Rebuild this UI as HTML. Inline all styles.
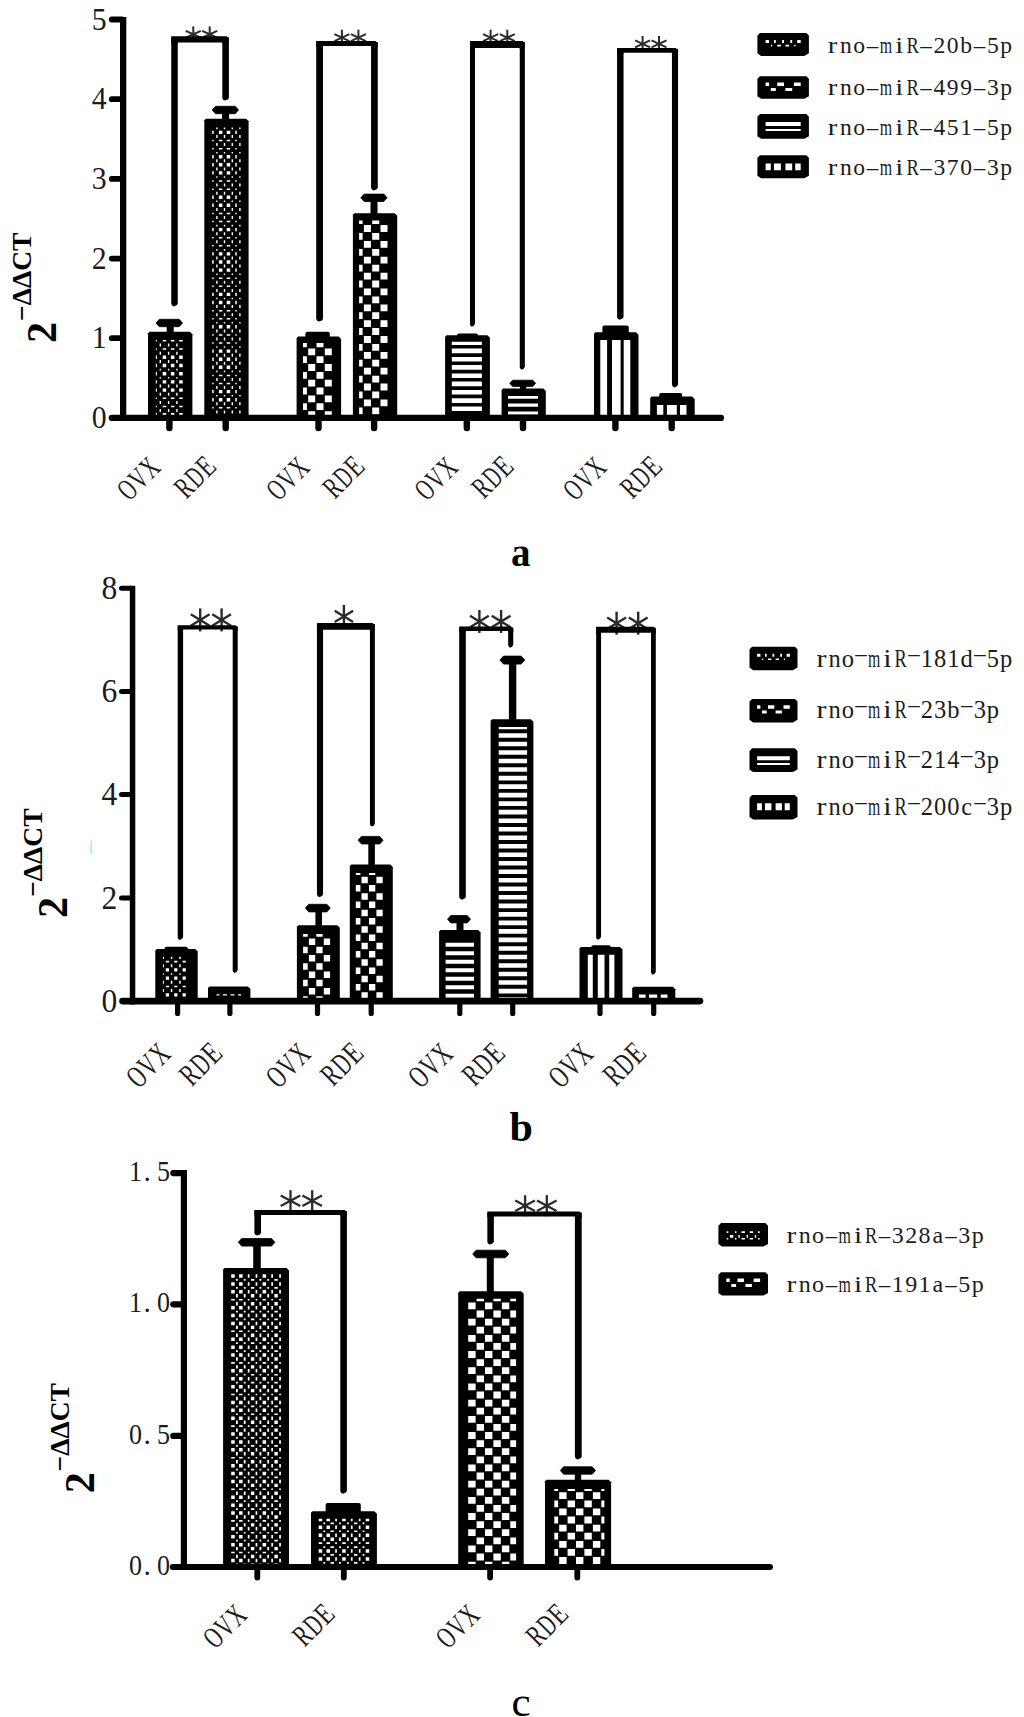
<!DOCTYPE html>
<html><head><meta charset="utf-8"><title>Figure</title>
<style>html,body{margin:0;padding:0;background:#fff;}body{width:1024px;height:1717px;overflow:hidden;font-family:"Liberation Serif",serif;}</style></head>
<body>
<svg width="1024" height="1717" viewBox="0 0 1024 1717" font-family="'Liberation Serif', serif" style="display:block"><path d="M148.00,415.50 L148.00,333.20 L149.50,331.70 L189.90,331.70 L192.40,334.20 L192.40,415.50 Z" fill="#000"/>
<path d="M155.8,340.1h1.1v1.5h-1.1zM159.6,343.5h1.4v3.0h-1.4zM162.7,340.1h3.5v1.5h-3.5zM167.9,343.5h1.4v3.0h-1.4zM170.9,340.1h3.5v1.5h-3.5zM176.2,343.5h1.4v3.0h-1.4zM179.2,340.1h3.5v1.5h-3.5zM155.8,348.3h1.1v1.5h-1.1zM159.6,351.7h1.4v3.0h-1.4zM162.7,348.3h3.5v1.5h-3.5zM167.9,351.7h1.4v3.0h-1.4zM170.9,348.3h3.5v1.5h-3.5zM176.2,351.7h1.4v3.0h-1.4zM179.2,348.3h3.5v1.5h-3.5zM155.8,355.6h1.1v3.4h-1.1zM159.6,359.9h1.4v3.0h-1.4zM162.7,355.6h3.5v3.4h-3.5zM167.9,359.9h1.4v3.0h-1.4zM170.9,355.6h3.5v3.4h-3.5zM176.2,359.9h1.4v3.0h-1.4zM179.2,355.6h3.5v3.4h-3.5zM155.8,363.8h1.1v3.4h-1.1zM159.6,368.8h1.4v1.6h-1.4zM162.7,363.8h3.5v3.4h-3.5zM167.9,368.8h1.4v1.6h-1.4zM170.9,363.8h3.5v3.4h-3.5zM176.2,368.8h1.4v1.6h-1.4zM179.2,363.8h3.5v3.4h-3.5zM155.8,372.0h1.1v3.4h-1.1zM159.6,377.0h1.4v1.6h-1.4zM162.7,372.0h3.5v3.4h-3.5zM167.9,377.0h1.4v1.6h-1.4zM170.9,372.0h3.5v3.4h-3.5zM176.2,377.0h1.4v1.6h-1.4zM179.2,372.0h3.5v3.4h-3.5zM155.8,380.2h1.1v3.4h-1.1zM159.6,384.5h1.4v3.0h-1.4zM162.7,380.2h3.5v3.4h-3.5zM167.9,384.5h1.4v3.0h-1.4zM170.9,380.2h3.5v3.4h-3.5zM176.2,384.5h1.4v3.0h-1.4zM179.2,380.2h3.5v3.4h-3.5zM155.8,388.4h1.1v3.4h-1.1zM159.6,392.7h1.4v3.0h-1.4zM162.7,388.4h3.5v3.4h-3.5zM167.9,392.7h1.4v3.0h-1.4zM170.9,388.4h3.5v3.4h-3.5zM176.2,392.7h1.4v3.0h-1.4zM179.2,388.4h3.5v3.4h-3.5zM155.8,397.5h1.1v1.5h-1.1zM159.6,400.9h1.4v3.0h-1.4zM162.7,397.5h3.5v1.5h-3.5zM167.9,400.9h1.4v3.0h-1.4zM170.9,397.5h3.5v1.5h-3.5zM176.2,400.9h1.4v3.0h-1.4zM179.2,397.5h3.5v1.5h-3.5zM155.8,405.8h1.1v1.5h-1.1zM159.6,409.1h1.4v3.0h-1.4zM162.7,405.8h3.5v1.5h-3.5zM167.9,409.1h1.4v3.0h-1.4zM170.9,405.8h3.5v1.5h-3.5zM176.2,409.1h1.4v3.0h-1.4zM179.2,405.8h3.5v1.5h-3.5zM155.8,413.0h1.1v2.5h-1.1zM162.7,413.0h3.5v2.5h-3.5zM170.9,413.0h3.5v2.5h-3.5zM179.2,413.0h3.5v2.5h-3.5z" fill="#fff"/>
<path d="M204.30,415.50 L204.30,120.20 L205.80,118.70 L246.10,118.70 L248.60,121.20 L248.60,415.50 Z" fill="#000"/>
<path d="M216.2,127.6h1.4v1.6h-1.4zM223.8,127.6h1.4v1.6h-1.4zM231.6,127.6h1.4v1.6h-1.4zM239.2,127.6h1.4v1.6h-1.4zM212.2,130.7h1.5v3.4h-1.5zM216.2,135.0h1.4v3.0h-1.4zM218.9,130.7h3.5v3.4h-3.5zM223.8,135.0h1.4v3.0h-1.4zM226.7,130.7h3.5v3.4h-3.5zM231.6,135.0h1.4v3.0h-1.4zM235.3,130.7h1.5v3.4h-1.5zM239.2,135.0h1.4v3.0h-1.4zM212.2,139.8h1.5v1.5h-1.5zM216.2,143.1h1.4v3.0h-1.4zM218.9,139.8h3.5v1.5h-3.5zM223.8,143.1h1.4v3.0h-1.4zM226.7,139.8h3.5v1.5h-3.5zM231.6,143.1h1.4v3.0h-1.4zM235.3,139.8h1.5v1.5h-1.5zM239.2,143.1h1.4v3.0h-1.4zM212.2,147.9h1.5v1.5h-1.5zM216.2,151.9h1.4v1.6h-1.4zM218.9,147.9h3.5v1.5h-3.5zM223.8,151.9h1.4v1.6h-1.4zM226.7,147.9h3.5v1.5h-3.5zM231.6,151.9h1.4v1.6h-1.4zM235.3,147.9h1.5v1.5h-1.5zM239.2,151.9h1.4v1.6h-1.4zM212.2,155.0h1.5v3.4h-1.5zM216.2,159.3h1.4v3.0h-1.4zM218.9,155.0h3.5v3.4h-3.5zM223.8,159.3h1.4v3.0h-1.4zM226.7,155.0h3.5v3.4h-3.5zM231.6,159.3h1.4v3.0h-1.4zM235.3,155.0h1.5v3.4h-1.5zM239.2,159.3h1.4v3.0h-1.4zM212.2,163.1h1.5v3.4h-1.5zM216.2,167.4h1.4v3.0h-1.4zM218.9,163.1h3.5v3.4h-3.5zM223.8,167.4h1.4v3.0h-1.4zM226.7,163.1h3.5v3.4h-3.5zM231.6,167.4h1.4v3.0h-1.4zM235.3,163.1h1.5v3.4h-1.5zM239.2,167.4h1.4v3.0h-1.4zM212.2,171.2h1.5v3.4h-1.5zM216.2,176.2h1.4v1.6h-1.4zM218.9,171.2h3.5v3.4h-3.5zM223.8,176.2h1.4v1.6h-1.4zM226.7,171.2h3.5v3.4h-3.5zM231.6,176.2h1.4v1.6h-1.4zM235.3,171.2h1.5v3.4h-1.5zM239.2,176.2h1.4v1.6h-1.4zM212.2,180.3h1.5v1.5h-1.5zM216.2,183.6h1.4v3.0h-1.4zM218.9,180.3h3.5v1.5h-3.5zM223.8,183.6h1.4v3.0h-1.4zM226.7,180.3h3.5v1.5h-3.5zM231.6,183.6h1.4v3.0h-1.4zM235.3,180.3h1.5v1.5h-1.5zM239.2,183.6h1.4v3.0h-1.4zM212.2,188.4h1.5v1.5h-1.5zM216.2,191.7h1.4v3.0h-1.4zM218.9,188.4h3.5v1.5h-3.5zM223.8,191.7h1.4v3.0h-1.4zM226.7,188.4h3.5v1.5h-3.5zM231.6,191.7h1.4v3.0h-1.4zM235.3,188.4h1.5v1.5h-1.5zM239.2,191.7h1.4v3.0h-1.4zM212.2,195.5h1.5v3.4h-1.5zM216.2,200.5h1.4v1.6h-1.4zM218.9,195.5h3.5v3.4h-3.5zM223.8,200.5h1.4v1.6h-1.4zM226.7,195.5h3.5v3.4h-3.5zM231.6,200.5h1.4v1.6h-1.4zM235.3,195.5h1.5v3.4h-1.5zM239.2,200.5h1.4v1.6h-1.4zM212.2,203.6h1.5v3.4h-1.5zM216.2,207.9h1.4v3.0h-1.4zM218.9,203.6h3.5v3.4h-3.5zM223.8,207.9h1.4v3.0h-1.4zM226.7,203.6h3.5v3.4h-3.5zM231.6,207.9h1.4v3.0h-1.4zM235.3,203.6h1.5v3.4h-1.5zM239.2,207.9h1.4v3.0h-1.4zM212.2,212.7h1.5v1.5h-1.5zM216.2,216.0h1.4v3.0h-1.4zM218.9,212.7h3.5v1.5h-3.5zM223.8,216.0h1.4v3.0h-1.4zM226.7,212.7h3.5v1.5h-3.5zM231.6,216.0h1.4v3.0h-1.4zM235.3,212.7h1.5v1.5h-1.5zM239.2,216.0h1.4v3.0h-1.4zM212.2,220.8h1.5v1.5h-1.5zM216.2,224.8h1.4v1.6h-1.4zM218.9,220.8h3.5v1.5h-3.5zM223.8,224.8h1.4v1.6h-1.4zM226.7,220.8h3.5v1.5h-3.5zM231.6,224.8h1.4v1.6h-1.4zM235.3,220.8h1.5v1.5h-1.5zM239.2,224.8h1.4v1.6h-1.4zM212.2,227.9h1.5v3.4h-1.5zM216.2,232.2h1.4v3.0h-1.4zM218.9,227.9h3.5v3.4h-3.5zM223.8,232.2h1.4v3.0h-1.4zM226.7,227.9h3.5v3.4h-3.5zM231.6,232.2h1.4v3.0h-1.4zM235.3,227.9h1.5v3.4h-1.5zM239.2,232.2h1.4v3.0h-1.4zM212.2,237.0h1.5v1.5h-1.5zM216.2,240.3h1.4v3.0h-1.4zM218.9,237.0h3.5v1.5h-3.5zM223.8,240.3h1.4v3.0h-1.4zM226.7,237.0h3.5v1.5h-3.5zM231.6,240.3h1.4v3.0h-1.4zM235.3,237.0h1.5v1.5h-1.5zM239.2,240.3h1.4v3.0h-1.4zM212.2,245.1h1.5v1.5h-1.5zM216.2,249.1h1.4v1.6h-1.4zM218.9,245.1h3.5v1.5h-3.5zM223.8,249.1h1.4v1.6h-1.4zM226.7,245.1h3.5v1.5h-3.5zM231.6,249.1h1.4v1.6h-1.4zM235.3,245.1h1.5v1.5h-1.5zM239.2,249.1h1.4v1.6h-1.4zM212.2,252.2h1.5v3.4h-1.5zM216.2,256.5h1.4v3.0h-1.4zM218.9,252.2h3.5v3.4h-3.5zM223.8,256.5h1.4v3.0h-1.4zM226.7,252.2h3.5v3.4h-3.5zM231.6,256.5h1.4v3.0h-1.4zM235.3,252.2h1.5v3.4h-1.5zM239.2,256.5h1.4v3.0h-1.4zM212.2,260.3h1.5v3.4h-1.5zM216.2,264.6h1.4v3.0h-1.4zM218.9,260.3h3.5v3.4h-3.5zM223.8,264.6h1.4v3.0h-1.4zM226.7,260.3h3.5v3.4h-3.5zM231.6,264.6h1.4v3.0h-1.4zM235.3,260.3h1.5v3.4h-1.5zM239.2,264.6h1.4v3.0h-1.4zM212.2,268.4h1.5v3.4h-1.5zM216.2,273.4h1.4v1.6h-1.4zM218.9,268.4h3.5v3.4h-3.5zM223.8,273.4h1.4v1.6h-1.4zM226.7,268.4h3.5v3.4h-3.5zM231.6,273.4h1.4v1.6h-1.4zM235.3,268.4h1.5v3.4h-1.5zM239.2,273.4h1.4v1.6h-1.4zM212.2,277.5h1.5v1.5h-1.5zM216.2,280.8h1.4v3.0h-1.4zM218.9,277.5h3.5v1.5h-3.5zM223.8,280.8h1.4v3.0h-1.4zM226.7,277.5h3.5v1.5h-3.5zM231.6,280.8h1.4v3.0h-1.4zM235.3,277.5h1.5v1.5h-1.5zM239.2,280.8h1.4v3.0h-1.4zM212.2,285.6h1.5v1.5h-1.5zM216.2,288.9h1.4v3.0h-1.4zM218.9,285.6h3.5v1.5h-3.5zM223.8,288.9h1.4v3.0h-1.4zM226.7,285.6h3.5v1.5h-3.5zM231.6,288.9h1.4v3.0h-1.4zM235.3,285.6h1.5v1.5h-1.5zM239.2,288.9h1.4v3.0h-1.4zM212.2,292.7h1.5v3.4h-1.5zM216.2,297.7h1.4v1.6h-1.4zM218.9,292.7h3.5v3.4h-3.5zM223.8,297.7h1.4v1.6h-1.4zM226.7,292.7h3.5v3.4h-3.5zM231.6,297.7h1.4v1.6h-1.4zM235.3,292.7h1.5v3.4h-1.5zM239.2,297.7h1.4v1.6h-1.4zM212.2,300.8h1.5v3.4h-1.5zM216.2,305.1h1.4v3.0h-1.4zM218.9,300.8h3.5v3.4h-3.5zM223.8,305.1h1.4v3.0h-1.4zM226.7,300.8h3.5v3.4h-3.5zM231.6,305.1h1.4v3.0h-1.4zM235.3,300.8h1.5v3.4h-1.5zM239.2,305.1h1.4v3.0h-1.4zM212.2,309.9h1.5v1.5h-1.5zM216.2,313.2h1.4v3.0h-1.4zM218.9,309.9h3.5v1.5h-3.5zM223.8,313.2h1.4v3.0h-1.4zM226.7,309.9h3.5v1.5h-3.5zM231.6,313.2h1.4v3.0h-1.4zM235.3,309.9h1.5v1.5h-1.5zM239.2,313.2h1.4v3.0h-1.4zM212.2,318.0h1.5v1.5h-1.5zM216.2,322.0h1.4v1.6h-1.4zM218.9,318.0h3.5v1.5h-3.5zM223.8,322.0h1.4v1.6h-1.4zM226.7,318.0h3.5v1.5h-3.5zM231.6,322.0h1.4v1.6h-1.4zM235.3,318.0h1.5v1.5h-1.5zM239.2,322.0h1.4v1.6h-1.4zM212.2,325.1h1.5v3.4h-1.5zM216.2,329.4h1.4v3.0h-1.4zM218.9,325.1h3.5v3.4h-3.5zM223.8,329.4h1.4v3.0h-1.4zM226.7,325.1h3.5v3.4h-3.5zM231.6,329.4h1.4v3.0h-1.4zM235.3,325.1h1.5v3.4h-1.5zM239.2,329.4h1.4v3.0h-1.4zM212.2,334.2h1.5v1.5h-1.5zM216.2,337.5h1.4v3.0h-1.4zM218.9,334.2h3.5v1.5h-3.5zM223.8,337.5h1.4v3.0h-1.4zM226.7,334.2h3.5v1.5h-3.5zM231.6,337.5h1.4v3.0h-1.4zM235.3,334.2h1.5v1.5h-1.5zM239.2,337.5h1.4v3.0h-1.4zM212.2,342.2h1.5v1.5h-1.5zM216.2,346.2h1.4v1.6h-1.4zM218.9,342.2h3.5v1.5h-3.5zM223.8,346.2h1.4v1.6h-1.4zM226.7,342.2h3.5v1.5h-3.5zM231.6,346.2h1.4v1.6h-1.4zM235.3,342.2h1.5v1.5h-1.5zM239.2,346.2h1.4v1.6h-1.4zM212.2,349.4h1.5v3.4h-1.5zM216.2,353.7h1.4v3.0h-1.4zM218.9,349.4h3.5v3.4h-3.5zM223.8,353.7h1.4v3.0h-1.4zM226.7,349.4h3.5v3.4h-3.5zM231.6,353.7h1.4v3.0h-1.4zM235.3,349.4h1.5v3.4h-1.5zM239.2,353.7h1.4v3.0h-1.4zM212.2,357.5h1.5v3.4h-1.5zM216.2,361.8h1.4v3.0h-1.4zM218.9,357.5h3.5v3.4h-3.5zM223.8,361.8h1.4v3.0h-1.4zM226.7,357.5h3.5v3.4h-3.5zM231.6,361.8h1.4v3.0h-1.4zM235.3,357.5h1.5v3.4h-1.5zM239.2,361.8h1.4v3.0h-1.4zM212.2,365.6h1.5v3.4h-1.5zM216.2,370.6h1.4v1.6h-1.4zM218.9,365.6h3.5v3.4h-3.5zM223.8,370.6h1.4v1.6h-1.4zM226.7,365.6h3.5v3.4h-3.5zM231.6,370.6h1.4v1.6h-1.4zM235.3,365.6h1.5v3.4h-1.5zM239.2,370.6h1.4v1.6h-1.4zM212.2,374.7h1.5v1.5h-1.5zM216.2,378.0h1.4v3.0h-1.4zM218.9,374.7h3.5v1.5h-3.5zM223.8,378.0h1.4v3.0h-1.4zM226.7,374.7h3.5v1.5h-3.5zM231.6,378.0h1.4v3.0h-1.4zM235.3,374.7h1.5v1.5h-1.5zM239.2,378.0h1.4v3.0h-1.4zM212.2,382.8h1.5v1.5h-1.5zM216.2,386.1h1.4v3.0h-1.4zM218.9,382.8h3.5v1.5h-3.5zM223.8,386.1h1.4v3.0h-1.4zM226.7,382.8h3.5v1.5h-3.5zM231.6,386.1h1.4v3.0h-1.4zM235.3,382.8h1.5v1.5h-1.5zM239.2,386.1h1.4v3.0h-1.4zM212.2,389.9h1.5v3.4h-1.5zM216.2,394.9h1.4v1.6h-1.4zM218.9,389.9h3.5v3.4h-3.5zM223.8,394.9h1.4v1.6h-1.4zM226.7,389.9h3.5v3.4h-3.5zM231.6,394.9h1.4v1.6h-1.4zM235.3,389.9h1.5v3.4h-1.5zM239.2,394.9h1.4v1.6h-1.4zM212.2,398.0h1.5v3.4h-1.5zM216.2,402.3h1.4v3.0h-1.4zM218.9,398.0h3.5v3.4h-3.5zM223.8,402.3h1.4v3.0h-1.4zM226.7,398.0h3.5v3.4h-3.5zM231.6,402.3h1.4v3.0h-1.4zM235.3,398.0h1.5v3.4h-1.5zM239.2,402.3h1.4v3.0h-1.4zM212.2,407.1h1.5v1.5h-1.5zM216.2,410.4h1.4v3.0h-1.4zM218.9,407.1h3.5v1.5h-3.5zM223.8,410.4h1.4v3.0h-1.4zM226.7,407.1h3.5v1.5h-3.5zM231.6,410.4h1.4v3.0h-1.4zM235.3,407.1h1.5v1.5h-1.5zM239.2,410.4h1.4v3.0h-1.4z" fill="#fff"/>
<path d="M296.60,415.50 L296.60,338.10 L298.10,336.60 L338.60,336.60 L341.10,339.10 L341.10,415.50 Z" fill="#000"/>
<path d="M303.0,343.0h3.9v4.3h-3.9zM316.5,343.0h7.0v4.3h-7.0zM303.0,356.2h3.9v6.8h-3.9zM308.2,348.4h7.0v6.8h-7.0zM316.5,356.2h7.0v6.8h-7.0zM324.8,348.4h7.0v6.8h-7.0zM303.0,371.9h3.9v6.8h-3.9zM308.2,364.1h7.0v6.8h-7.0zM316.5,371.9h7.0v6.8h-7.0zM324.8,364.1h7.0v6.8h-7.0zM303.0,387.6h3.9v6.8h-3.9zM308.2,379.8h7.0v6.8h-7.0zM316.5,387.6h7.0v6.8h-7.0zM324.8,379.8h7.0v6.8h-7.0zM303.0,403.3h3.9v6.8h-3.9zM308.2,395.5h7.0v6.8h-7.0zM316.5,403.3h7.0v6.8h-7.0zM324.8,395.5h7.0v6.8h-7.0zM308.2,411.2h7.0v4.3h-7.0zM324.8,411.2h7.0v4.3h-7.0z" fill="#fff"/>
<path d="M352.90,415.50 L352.90,214.80 L354.40,213.30 L394.70,213.30 L397.20,215.80 L397.20,415.50 Z" fill="#000"/>
<path d="M359.1,220.5h3.5v3.5h-3.5zM363.9,225.1h7.0v6.8h-7.0zM372.2,220.5h7.0v3.5h-7.0zM380.5,225.1h7.0v6.8h-7.0zM359.1,233.0h3.5v6.8h-3.5zM363.9,241.0h7.0v6.8h-7.0zM372.2,233.0h7.0v6.8h-7.0zM380.5,241.0h7.0v6.8h-7.0zM359.1,248.9h3.5v6.8h-3.5zM363.9,256.8h7.0v6.8h-7.0zM372.2,248.9h7.0v6.8h-7.0zM380.5,256.8h7.0v6.8h-7.0zM359.1,264.7h3.5v6.8h-3.5zM363.9,272.7h7.0v6.8h-7.0zM372.2,264.7h7.0v6.8h-7.0zM380.5,272.7h7.0v6.8h-7.0zM359.1,280.6h3.5v6.8h-3.5zM363.9,288.5h7.0v6.8h-7.0zM372.2,280.6h7.0v6.8h-7.0zM380.5,288.5h7.0v6.8h-7.0zM359.1,296.4h3.5v6.8h-3.5zM363.9,304.4h7.0v6.8h-7.0zM372.2,296.4h7.0v6.8h-7.0zM380.5,304.4h7.0v6.8h-7.0zM359.1,312.3h3.5v6.8h-3.5zM363.9,320.2h7.0v6.8h-7.0zM372.2,312.3h7.0v6.8h-7.0zM380.5,320.2h7.0v6.8h-7.0zM359.1,328.1h3.5v6.8h-3.5zM363.9,336.1h7.0v6.8h-7.0zM372.2,328.1h7.0v6.8h-7.0zM380.5,336.1h7.0v6.8h-7.0zM359.1,344.0h3.5v6.8h-3.5zM363.9,351.9h7.0v6.8h-7.0zM372.2,344.0h7.0v6.8h-7.0zM380.5,351.9h7.0v6.8h-7.0zM359.1,359.8h3.5v6.8h-3.5zM363.9,367.8h7.0v6.8h-7.0zM372.2,359.8h7.0v6.8h-7.0zM380.5,367.8h7.0v6.8h-7.0zM359.1,375.7h3.5v6.8h-3.5zM363.9,383.6h7.0v6.8h-7.0zM372.2,375.7h7.0v6.8h-7.0zM380.5,383.6h7.0v6.8h-7.0zM359.1,391.5h3.5v6.8h-3.5zM363.9,399.5h7.0v6.8h-7.0zM372.2,391.5h7.0v6.8h-7.0zM380.5,399.5h7.0v6.8h-7.0zM359.1,407.4h3.5v6.8h-3.5zM372.2,407.4h7.0v6.8h-7.0z" fill="#fff"/>
<path d="M445.10,415.50 L445.10,336.80 L446.60,335.30 L487.40,335.30 L489.90,337.80 L489.90,415.50 Z" fill="#000"/>
<path d="M451.8,341.8h30.1v3.2h-30.1zM451.8,348.6h30.1v4.7h-30.1zM451.8,356.9h30.1v4.7h-30.1zM451.8,365.1h30.1v4.7h-30.1zM451.8,373.4h30.1v4.7h-30.1zM451.8,381.6h30.1v4.7h-30.1zM451.8,389.9h30.1v4.7h-30.1zM451.8,398.2h30.1v4.7h-30.1zM451.8,406.4h30.1v4.7h-30.1z" fill="#fff"/>
<path d="M501.60,415.50 L501.60,389.90 L503.10,388.40 L543.30,388.40 L545.80,390.90 L545.80,415.50 Z" fill="#000"/>
<path d="M508.0,396.0h30.0v2.8h-30.0zM508.0,403.6h30.0v3.2h-30.0zM508.0,411.6h30.0v2.9h-30.0z" fill="#fff"/>
<path d="M594.00,415.50 L594.00,333.70 L595.50,332.20 L636.00,332.20 L638.50,334.70 L638.50,415.50 Z" fill="#000"/>
<path d="M600.3,340.0h6.8v75.5h-6.8zM612.0,340.0h8.6v75.5h-8.6zM623.7,340.0h6.6v75.5h-6.6z" fill="#fff"/>
<path d="M650.20,415.50 L650.20,398.10 L651.70,396.60 L692.20,396.60 L694.70,399.10 L694.70,415.50 Z" fill="#000"/>
<path d="M656.9,405.0h6.4v10.5h-6.4zM666.9,405.0h9.9v10.5h-9.9zM680.0,405.0h6.5v10.5h-6.5z" fill="#fff"/>
<line x1="170.20" y1="323.00" x2="170.20" y2="333.70" stroke="#000" stroke-width="7.0" stroke-linecap="butt"/><path d="M156.00,323.00L159.33,319.30H179.17L182.50,323.00L179.17,326.70H159.33Z" fill="#000" stroke="#000" stroke-width="0.8" stroke-linejoin="round"/>
<line x1="225.60" y1="110.00" x2="225.60" y2="120.70" stroke="#000" stroke-width="7.0" stroke-linecap="butt"/><path d="M212.20,110.00L215.53,106.30H235.17L238.50,110.00L235.17,113.70H215.53Z" fill="#000" stroke="#000" stroke-width="0.8" stroke-linejoin="round"/>
<rect x="305.40" y="331.80" width="24.40" height="6.80" rx="2" fill="#000"/>
<line x1="374.00" y1="197.80" x2="374.00" y2="215.30" stroke="#000" stroke-width="7.0" stroke-linecap="butt"/><path d="M360.80,197.80L364.13,194.10H383.77L387.10,197.80L383.77,201.50H364.13Z" fill="#000" stroke="#000" stroke-width="0.8" stroke-linejoin="round"/>
<rect x="457.00" y="333.40" width="21.00" height="3.90" rx="2" fill="#000"/>
<line x1="523.10" y1="383.30" x2="523.10" y2="390.40" stroke="#000" stroke-width="6.2" stroke-linecap="butt"/><path d="M509.80,383.30L512.59,380.20H532.81L535.60,383.30L532.81,386.40H512.59Z" fill="#000" stroke="#000" stroke-width="0.8" stroke-linejoin="round"/>
<rect x="602.40" y="325.40" width="26.40" height="8.80" rx="2" fill="#000"/>
<rect x="659.20" y="393.00" width="22.90" height="5.60" rx="2" fill="#000"/>
<rect x="120.00" y="17.00" width="6.30" height="404.00" fill="#000" />
<line x1="111.80" y1="417.90" x2="721.00" y2="417.90" stroke="#000" stroke-width="6.2" stroke-linecap="round"/>
<line x1="111.80" y1="19.50" x2="122.00" y2="19.50" stroke="#000" stroke-width="5.8" stroke-linecap="round"/>
<line x1="111.80" y1="99.20" x2="122.00" y2="99.20" stroke="#000" stroke-width="5.8" stroke-linecap="round"/>
<line x1="111.80" y1="178.90" x2="122.00" y2="178.90" stroke="#000" stroke-width="5.8" stroke-linecap="round"/>
<line x1="111.80" y1="258.60" x2="122.00" y2="258.60" stroke="#000" stroke-width="5.8" stroke-linecap="round"/>
<line x1="111.80" y1="338.20" x2="122.00" y2="338.20" stroke="#000" stroke-width="5.8" stroke-linecap="round"/>
<line x1="169.40" y1="419.00" x2="169.40" y2="428.00" stroke="#000" stroke-width="6.4" stroke-linecap="round"/>
<line x1="225.70" y1="419.00" x2="225.70" y2="428.00" stroke="#000" stroke-width="6.4" stroke-linecap="round"/>
<line x1="318.50" y1="419.00" x2="318.50" y2="428.00" stroke="#000" stroke-width="6.4" stroke-linecap="round"/>
<line x1="374.10" y1="419.00" x2="374.10" y2="428.00" stroke="#000" stroke-width="6.4" stroke-linecap="round"/>
<line x1="466.80" y1="419.00" x2="466.80" y2="428.00" stroke="#000" stroke-width="6.4" stroke-linecap="round"/>
<line x1="523.00" y1="419.00" x2="523.00" y2="428.00" stroke="#000" stroke-width="6.4" stroke-linecap="round"/>
<line x1="615.40" y1="419.00" x2="615.40" y2="428.00" stroke="#000" stroke-width="6.4" stroke-linecap="round"/>
<line x1="671.70" y1="419.00" x2="671.70" y2="428.00" stroke="#000" stroke-width="6.4" stroke-linecap="round"/>
<line x1="193.30" y1="26.40" x2="193.30" y2="42.20" stroke="#2a2a2a" stroke-width="2.0" stroke-linecap="butt"/><line x1="185.80" y1="30.82" x2="200.80" y2="37.78" stroke="#2a2a2a" stroke-width="2.0" stroke-linecap="butt"/><line x1="185.80" y1="37.78" x2="200.80" y2="30.82" stroke="#2a2a2a" stroke-width="2.0" stroke-linecap="butt"/><line x1="209.70" y1="26.40" x2="209.70" y2="42.20" stroke="#2a2a2a" stroke-width="2.0" stroke-linecap="butt"/><line x1="202.20" y1="30.82" x2="217.20" y2="37.78" stroke="#2a2a2a" stroke-width="2.0" stroke-linecap="butt"/><line x1="202.20" y1="37.78" x2="217.20" y2="30.82" stroke="#2a2a2a" stroke-width="2.0" stroke-linecap="butt"/>
<line x1="341.90" y1="29.70" x2="341.90" y2="45.50" stroke="#2a2a2a" stroke-width="2.0" stroke-linecap="butt"/><line x1="334.40" y1="34.12" x2="349.40" y2="41.08" stroke="#2a2a2a" stroke-width="2.0" stroke-linecap="butt"/><line x1="334.40" y1="41.08" x2="349.40" y2="34.12" stroke="#2a2a2a" stroke-width="2.0" stroke-linecap="butt"/><line x1="358.40" y1="29.70" x2="358.40" y2="45.50" stroke="#2a2a2a" stroke-width="2.0" stroke-linecap="butt"/><line x1="350.90" y1="34.12" x2="365.90" y2="41.08" stroke="#2a2a2a" stroke-width="2.0" stroke-linecap="butt"/><line x1="350.90" y1="41.08" x2="365.90" y2="34.12" stroke="#2a2a2a" stroke-width="2.0" stroke-linecap="butt"/>
<line x1="490.60" y1="29.70" x2="490.60" y2="45.50" stroke="#2a2a2a" stroke-width="2.0" stroke-linecap="butt"/><line x1="483.10" y1="34.12" x2="498.10" y2="41.08" stroke="#2a2a2a" stroke-width="2.0" stroke-linecap="butt"/><line x1="483.10" y1="41.08" x2="498.10" y2="34.12" stroke="#2a2a2a" stroke-width="2.0" stroke-linecap="butt"/><line x1="507.30" y1="29.70" x2="507.30" y2="45.50" stroke="#2a2a2a" stroke-width="2.0" stroke-linecap="butt"/><line x1="499.80" y1="34.12" x2="514.80" y2="41.08" stroke="#2a2a2a" stroke-width="2.0" stroke-linecap="butt"/><line x1="499.80" y1="41.08" x2="514.80" y2="34.12" stroke="#2a2a2a" stroke-width="2.0" stroke-linecap="butt"/>
<line x1="642.60" y1="36.00" x2="642.60" y2="51.80" stroke="#2a2a2a" stroke-width="2.0" stroke-linecap="butt"/><line x1="635.10" y1="40.42" x2="650.10" y2="47.38" stroke="#2a2a2a" stroke-width="2.0" stroke-linecap="butt"/><line x1="635.10" y1="47.38" x2="650.10" y2="40.42" stroke="#2a2a2a" stroke-width="2.0" stroke-linecap="butt"/><line x1="659.00" y1="36.00" x2="659.00" y2="51.80" stroke="#2a2a2a" stroke-width="2.0" stroke-linecap="butt"/><line x1="651.50" y1="40.42" x2="666.50" y2="47.38" stroke="#2a2a2a" stroke-width="2.0" stroke-linecap="butt"/><line x1="651.50" y1="47.38" x2="666.50" y2="40.42" stroke="#2a2a2a" stroke-width="2.0" stroke-linecap="butt"/>
<path d="M171.25,37.30V303.80Q171.55,305.80 173.90,306.40Q177.55,305.40 177.75,303.20V37.30Z" fill="#000"/><path d="M222.30,37.30V98.00Q222.60,100.00 225.00,100.60Q228.70,99.60 228.90,97.40V37.30Z" fill="#000"/><path d="M171.25,43.60V36.30H226.70L228.90,38.50V43.60H222.30V42.60H177.75V43.60Z" fill="#000"/>
<path d="M316.20,42.10V319.00Q316.50,321.00 319.00,321.60Q322.80,320.60 323.00,318.40V42.10Z" fill="#000"/><path d="M371.05,42.10V187.80Q371.35,189.80 373.80,190.40Q377.55,189.40 377.75,187.20V42.10Z" fill="#000"/><path d="M316.20,46.90V41.10H375.55L377.75,43.30V46.90H371.05V45.90H323.00V46.90Z" fill="#000"/>
<path d="M470.00,42.10V324.20Q470.30,326.20 471.90,326.80Q474.80,325.80 475.00,323.60V42.10Z" fill="#000"/><path d="M519.75,42.10V367.10Q520.05,369.10 521.70,369.70Q524.65,368.70 524.85,366.50V42.10Z" fill="#000"/><path d="M470.00,48.90V41.10H522.65L524.85,43.30V48.90H519.75V47.90H475.00V48.90Z" fill="#000"/>
<path d="M617.05,49.00V317.10Q617.35,319.10 619.70,319.70Q623.35,318.70 623.55,316.50V49.00Z" fill="#000"/><path d="M671.95,49.00V384.80Q672.25,386.80 674.40,387.40Q677.85,386.40 678.05,384.20V49.00Z" fill="#000"/><path d="M617.05,53.80V48.00H675.85L678.05,50.20V53.80H671.95V52.80H623.55V53.80Z" fill="#000"/>
<text transform="translate(99.30,29.70) scale(0.992,1.040)" text-anchor="middle" font-size="30.0" fill="#1c1c1c">5</text>
<text transform="translate(99.30,109.40) scale(0.992,1.040)" text-anchor="middle" font-size="30.0" fill="#1c1c1c">4</text>
<text transform="translate(99.30,189.10) scale(0.992,1.040)" text-anchor="middle" font-size="30.0" fill="#1c1c1c">3</text>
<text transform="translate(99.30,268.80) scale(0.992,1.040)" text-anchor="middle" font-size="30.0" fill="#1c1c1c">2</text>
<text transform="translate(99.30,348.40) scale(0.992,1.040)" text-anchor="middle" font-size="30.0" fill="#1c1c1c">1</text>
<text transform="translate(99.30,428.10) scale(0.992,1.040)" text-anchor="middle" font-size="30.0" fill="#1c1c1c">0</text>
<g transform="translate(162.40,469.00) rotate(-45)"><text transform="translate(-39.50,0.00) scale(0.667,1.000)" text-anchor="middle" font-size="30.5" fill="#1c1c1c">O</text><text transform="translate(-23.70,0.00) scale(0.667,1.000)" text-anchor="middle" font-size="30.5" fill="#1c1c1c">V</text><text transform="translate(-7.90,0.00) scale(0.667,1.000)" text-anchor="middle" font-size="30.5" fill="#1c1c1c">X</text></g>
<g transform="translate(311.50,469.00) rotate(-45)"><text transform="translate(-39.50,0.00) scale(0.667,1.000)" text-anchor="middle" font-size="30.5" fill="#1c1c1c">O</text><text transform="translate(-23.70,0.00) scale(0.667,1.000)" text-anchor="middle" font-size="30.5" fill="#1c1c1c">V</text><text transform="translate(-7.90,0.00) scale(0.667,1.000)" text-anchor="middle" font-size="30.5" fill="#1c1c1c">X</text></g>
<g transform="translate(459.80,469.00) rotate(-45)"><text transform="translate(-39.50,0.00) scale(0.667,1.000)" text-anchor="middle" font-size="30.5" fill="#1c1c1c">O</text><text transform="translate(-23.70,0.00) scale(0.667,1.000)" text-anchor="middle" font-size="30.5" fill="#1c1c1c">V</text><text transform="translate(-7.90,0.00) scale(0.667,1.000)" text-anchor="middle" font-size="30.5" fill="#1c1c1c">X</text></g>
<g transform="translate(608.40,469.00) rotate(-45)"><text transform="translate(-39.50,0.00) scale(0.667,1.000)" text-anchor="middle" font-size="30.5" fill="#1c1c1c">O</text><text transform="translate(-23.70,0.00) scale(0.667,1.000)" text-anchor="middle" font-size="30.5" fill="#1c1c1c">V</text><text transform="translate(-7.90,0.00) scale(0.667,1.000)" text-anchor="middle" font-size="30.5" fill="#1c1c1c">X</text></g>
<g transform="translate(218.20,468.00) rotate(-45)"><text transform="translate(-38.00,0.00) scale(0.695,1.000)" text-anchor="middle" font-size="30.5" fill="#1c1c1c">R</text><text transform="translate(-22.80,0.00) scale(0.642,1.000)" text-anchor="middle" font-size="30.5" fill="#1c1c1c">D</text><text transform="translate(-7.60,0.00) scale(0.759,1.000)" text-anchor="middle" font-size="30.5" fill="#1c1c1c">E</text></g>
<g transform="translate(366.60,468.00) rotate(-45)"><text transform="translate(-38.00,0.00) scale(0.695,1.000)" text-anchor="middle" font-size="30.5" fill="#1c1c1c">R</text><text transform="translate(-22.80,0.00) scale(0.642,1.000)" text-anchor="middle" font-size="30.5" fill="#1c1c1c">D</text><text transform="translate(-7.60,0.00) scale(0.759,1.000)" text-anchor="middle" font-size="30.5" fill="#1c1c1c">E</text></g>
<g transform="translate(515.50,468.00) rotate(-45)"><text transform="translate(-38.00,0.00) scale(0.695,1.000)" text-anchor="middle" font-size="30.5" fill="#1c1c1c">R</text><text transform="translate(-22.80,0.00) scale(0.642,1.000)" text-anchor="middle" font-size="30.5" fill="#1c1c1c">D</text><text transform="translate(-7.60,0.00) scale(0.759,1.000)" text-anchor="middle" font-size="30.5" fill="#1c1c1c">E</text></g>
<g transform="translate(664.20,468.00) rotate(-45)"><text transform="translate(-38.00,0.00) scale(0.695,1.000)" text-anchor="middle" font-size="30.5" fill="#1c1c1c">R</text><text transform="translate(-22.80,0.00) scale(0.642,1.000)" text-anchor="middle" font-size="30.5" fill="#1c1c1c">D</text><text transform="translate(-7.60,0.00) scale(0.759,1.000)" text-anchor="middle" font-size="30.5" fill="#1c1c1c">E</text></g>
<path d="M760.0,33.0H806.3L808.9,35.6V53.3L804.3,55.9H761.0L757.4,53.3V35.6Z" fill="#000"/><path d="M765.6,40.0h3.5v3.0h-3.5zM774.0,40.0h1.8v3.0h-1.8zM782.1,40.0h1.9v3.0h-1.9zM790.3,40.0h1.9v3.0h-1.9zM797.2,40.0h3.5v3.0h-3.5zM770.9,44.8h1.3v1.6h-1.3zM777.2,44.8h3.7v1.6h-3.7zM785.4,44.8h3.7v1.6h-3.7zM794.2,44.8h1.3v1.6h-1.3z" fill="#fff"/>
<text transform="translate(832.48,53.00) scale(1.220,1.000)" text-anchor="middle" font-size="23.6" fill="#1c1c1c">r</text><text transform="translate(845.84,53.00) scale(1.000,1.000)" text-anchor="middle" font-size="23.6" fill="#1c1c1c">n</text><text transform="translate(859.20,53.00) scale(1.000,1.000)" text-anchor="middle" font-size="23.6" fill="#1c1c1c">o</text><text transform="translate(872.56,53.00) scale(0.974,1.000)" text-anchor="middle" font-size="23.6" fill="#1c1c1c">–</text><text transform="translate(885.92,53.00) scale(0.677,1.000)" text-anchor="middle" font-size="23.6" fill="#1c1c1c">m</text><text transform="translate(899.28,53.00) scale(1.220,1.000)" text-anchor="middle" font-size="23.6" fill="#1c1c1c">i</text><text transform="translate(912.64,53.00) scale(0.789,1.000)" text-anchor="middle" font-size="23.6" fill="#1c1c1c">R</text><text transform="translate(926.00,53.00) scale(0.974,1.000)" text-anchor="middle" font-size="23.6" fill="#1c1c1c">–</text><text transform="translate(939.36,53.00) scale(1.000,1.000)" text-anchor="middle" font-size="23.6" fill="#1c1c1c">2</text><text transform="translate(952.72,53.00) scale(1.000,1.000)" text-anchor="middle" font-size="23.6" fill="#1c1c1c">0</text><text transform="translate(966.08,53.00) scale(1.000,1.000)" text-anchor="middle" font-size="23.6" fill="#1c1c1c">b</text><text transform="translate(979.44,53.00) scale(0.974,1.000)" text-anchor="middle" font-size="23.6" fill="#1c1c1c">–</text><text transform="translate(992.80,53.00) scale(1.000,1.000)" text-anchor="middle" font-size="23.6" fill="#1c1c1c">5</text><text transform="translate(1006.16,53.00) scale(1.000,1.000)" text-anchor="middle" font-size="23.6" fill="#1c1c1c">p</text>
<path d="M760.0,76.2H806.3L808.9,78.8V96.2L804.3,98.8H761.0L757.4,96.2V78.8Z" fill="#000"/><path d="M765.6,82.6h3.5v3.4h-3.5zM777.2,82.6h6.8v3.4h-6.8zM793.9,82.6h6.8v3.4h-6.8zM770.8,87.9h5.0v3.0h-5.0zM785.4,87.9h6.8v3.0h-6.8z" fill="#fff"/>
<text transform="translate(832.48,94.60) scale(1.220,1.000)" text-anchor="middle" font-size="23.6" fill="#1c1c1c">r</text><text transform="translate(845.84,94.60) scale(1.000,1.000)" text-anchor="middle" font-size="23.6" fill="#1c1c1c">n</text><text transform="translate(859.20,94.60) scale(1.000,1.000)" text-anchor="middle" font-size="23.6" fill="#1c1c1c">o</text><text transform="translate(872.56,94.60) scale(0.974,1.000)" text-anchor="middle" font-size="23.6" fill="#1c1c1c">–</text><text transform="translate(885.92,94.60) scale(0.677,1.000)" text-anchor="middle" font-size="23.6" fill="#1c1c1c">m</text><text transform="translate(899.28,94.60) scale(1.220,1.000)" text-anchor="middle" font-size="23.6" fill="#1c1c1c">i</text><text transform="translate(912.64,94.60) scale(0.789,1.000)" text-anchor="middle" font-size="23.6" fill="#1c1c1c">R</text><text transform="translate(926.00,94.60) scale(0.974,1.000)" text-anchor="middle" font-size="23.6" fill="#1c1c1c">–</text><text transform="translate(939.36,94.60) scale(1.000,1.000)" text-anchor="middle" font-size="23.6" fill="#1c1c1c">4</text><text transform="translate(952.72,94.60) scale(1.000,1.000)" text-anchor="middle" font-size="23.6" fill="#1c1c1c">9</text><text transform="translate(966.08,94.60) scale(1.000,1.000)" text-anchor="middle" font-size="23.6" fill="#1c1c1c">9</text><text transform="translate(979.44,94.60) scale(0.974,1.000)" text-anchor="middle" font-size="23.6" fill="#1c1c1c">–</text><text transform="translate(992.80,94.60) scale(1.000,1.000)" text-anchor="middle" font-size="23.6" fill="#1c1c1c">3</text><text transform="translate(1006.16,94.60) scale(1.000,1.000)" text-anchor="middle" font-size="23.6" fill="#1c1c1c">p</text>
<path d="M760.0,114.1H806.3L808.9,116.7V136.2L804.3,138.8H761.0L757.4,136.2V116.7Z" fill="#000"/><path d="M765.6,122.1h35.1v3.9h-35.1zM765.6,128.9h35.1v2.0h-35.1z" fill="#fff"/>
<text transform="translate(832.48,134.80) scale(1.220,1.000)" text-anchor="middle" font-size="23.6" fill="#1c1c1c">r</text><text transform="translate(845.84,134.80) scale(1.000,1.000)" text-anchor="middle" font-size="23.6" fill="#1c1c1c">n</text><text transform="translate(859.20,134.80) scale(1.000,1.000)" text-anchor="middle" font-size="23.6" fill="#1c1c1c">o</text><text transform="translate(872.56,134.80) scale(0.974,1.000)" text-anchor="middle" font-size="23.6" fill="#1c1c1c">–</text><text transform="translate(885.92,134.80) scale(0.677,1.000)" text-anchor="middle" font-size="23.6" fill="#1c1c1c">m</text><text transform="translate(899.28,134.80) scale(1.220,1.000)" text-anchor="middle" font-size="23.6" fill="#1c1c1c">i</text><text transform="translate(912.64,134.80) scale(0.789,1.000)" text-anchor="middle" font-size="23.6" fill="#1c1c1c">R</text><text transform="translate(926.00,134.80) scale(0.974,1.000)" text-anchor="middle" font-size="23.6" fill="#1c1c1c">–</text><text transform="translate(939.36,134.80) scale(1.000,1.000)" text-anchor="middle" font-size="23.6" fill="#1c1c1c">4</text><text transform="translate(952.72,134.80) scale(1.000,1.000)" text-anchor="middle" font-size="23.6" fill="#1c1c1c">5</text><text transform="translate(966.08,134.80) scale(1.000,1.000)" text-anchor="middle" font-size="23.6" fill="#1c1c1c">1</text><text transform="translate(979.44,134.80) scale(0.974,1.000)" text-anchor="middle" font-size="23.6" fill="#1c1c1c">–</text><text transform="translate(992.80,134.80) scale(1.000,1.000)" text-anchor="middle" font-size="23.6" fill="#1c1c1c">5</text><text transform="translate(1006.16,134.80) scale(1.000,1.000)" text-anchor="middle" font-size="23.6" fill="#1c1c1c">p</text>
<path d="M760.0,155.2H806.3L808.9,157.8V175.7L804.3,178.3H761.0L757.4,175.7V157.8Z" fill="#000"/><path d="M765.6,163.4h5.2v6.9h-5.2zM773.9,163.4h7.0v6.9h-7.0zM785.4,163.4h6.8v6.9h-6.8zM795.2,163.4h5.5v6.9h-5.5z" fill="#fff"/>
<text transform="translate(832.48,175.00) scale(1.220,1.000)" text-anchor="middle" font-size="23.6" fill="#1c1c1c">r</text><text transform="translate(845.84,175.00) scale(1.000,1.000)" text-anchor="middle" font-size="23.6" fill="#1c1c1c">n</text><text transform="translate(859.20,175.00) scale(1.000,1.000)" text-anchor="middle" font-size="23.6" fill="#1c1c1c">o</text><text transform="translate(872.56,175.00) scale(0.974,1.000)" text-anchor="middle" font-size="23.6" fill="#1c1c1c">–</text><text transform="translate(885.92,175.00) scale(0.677,1.000)" text-anchor="middle" font-size="23.6" fill="#1c1c1c">m</text><text transform="translate(899.28,175.00) scale(1.220,1.000)" text-anchor="middle" font-size="23.6" fill="#1c1c1c">i</text><text transform="translate(912.64,175.00) scale(0.789,1.000)" text-anchor="middle" font-size="23.6" fill="#1c1c1c">R</text><text transform="translate(926.00,175.00) scale(0.974,1.000)" text-anchor="middle" font-size="23.6" fill="#1c1c1c">–</text><text transform="translate(939.36,175.00) scale(1.000,1.000)" text-anchor="middle" font-size="23.6" fill="#1c1c1c">3</text><text transform="translate(952.72,175.00) scale(1.000,1.000)" text-anchor="middle" font-size="23.6" fill="#1c1c1c">7</text><text transform="translate(966.08,175.00) scale(1.000,1.000)" text-anchor="middle" font-size="23.6" fill="#1c1c1c">0</text><text transform="translate(979.44,175.00) scale(0.974,1.000)" text-anchor="middle" font-size="23.6" fill="#1c1c1c">–</text><text transform="translate(992.80,175.00) scale(1.000,1.000)" text-anchor="middle" font-size="23.6" fill="#1c1c1c">3</text><text transform="translate(1006.16,175.00) scale(1.000,1.000)" text-anchor="middle" font-size="23.6" fill="#1c1c1c">p</text>
<text transform="translate(56.30,343.00) rotate(-90)" font-size="42" font-weight="bold" fill="#000">2</text><text transform="translate(31.00,321.00) rotate(-90)" font-size="27.5" font-weight="bold" fill="#000">−ΔΔCT</text>
<text x="511.0" y="565.5" font-size="39" font-weight="bold" fill="#000">a</text>
<path d="M155.30,998.40 L155.30,950.40 L156.80,948.90 L195.20,948.90 L197.70,951.40 L197.70,998.40 Z" fill="#000"/>
<path d="M162.9,956.7h1.0v2.2h-1.0zM170.8,956.7h1.5v2.2h-1.5zM179.2,956.7h1.5v2.2h-1.5zM162.9,964.2h1.0v3.0h-1.0zM165.8,960.8h3.2v1.6h-3.2zM170.8,964.2h1.5v3.0h-1.5zM174.2,960.8h3.2v1.6h-3.2zM179.2,964.2h1.5v3.0h-1.5zM182.6,960.8h3.2v1.6h-3.2zM162.9,973.2h1.0v1.6h-1.0zM165.8,968.3h3.2v3.2h-3.2zM170.8,973.2h1.5v1.6h-1.5zM174.2,968.3h3.2v3.2h-3.2zM179.2,973.2h1.5v1.6h-1.5zM182.6,968.3h3.2v3.2h-3.2zM162.9,980.8h1.0v3.0h-1.0zM165.8,976.6h3.2v3.2h-3.2zM170.8,980.8h1.5v3.0h-1.5zM174.2,976.6h3.2v3.2h-3.2zM179.2,980.8h1.5v3.0h-1.5zM182.6,976.6h3.2v3.2h-3.2zM162.9,989.1h1.0v3.0h-1.0zM165.8,985.7h3.2v1.6h-3.2zM170.8,989.1h1.5v3.0h-1.5zM174.2,985.7h3.2v1.6h-3.2zM179.2,989.1h1.5v3.0h-1.5zM182.6,985.7h3.2v1.6h-3.2zM165.8,993.2h3.2v3.2h-3.2zM174.2,993.2h3.2v3.2h-3.2zM182.6,993.2h3.2v3.2h-3.2z" fill="#fff"/>
<path d="M208.00,998.40 L208.00,988.10 L209.50,986.60 L247.90,986.60 L250.40,989.10 L250.40,998.40 Z" fill="#000"/>
<path d="M216.5,994.2h3.0v1.2h-3.0zM223.0,994.2h4.0v1.2h-4.0zM230.5,994.2h4.0v1.2h-4.0zM238.0,994.2h3.0v1.2h-3.0z" fill="#fff"/>
<path d="M296.90,998.40 L296.90,926.80 L298.40,925.30 L337.30,925.30 L339.80,927.80 L339.80,998.40 Z" fill="#000"/>
<path d="M303.1,933.9h4.6v2.9h-4.6zM316.3,933.9h6.3v2.9h-6.3zM303.1,946.7h4.6v6.6h-4.6zM308.9,938.4h6.3v6.6h-6.3zM316.3,946.7h6.3v6.6h-6.3zM323.8,938.4h6.3v6.6h-6.3zM303.1,963.2h4.6v6.6h-4.6zM308.9,954.9h6.3v6.6h-6.3zM316.3,963.2h6.3v6.6h-6.3zM323.8,954.9h6.3v6.6h-6.3zM303.1,979.7h4.6v6.6h-4.6zM308.9,971.4h6.3v6.6h-6.3zM316.3,979.7h6.3v6.6h-6.3zM323.8,971.4h6.3v6.6h-6.3zM303.1,996.2h4.6v2.2h-4.6zM308.9,987.9h6.3v6.6h-6.3zM316.3,996.2h6.3v2.2h-6.3zM323.8,987.9h6.3v6.6h-6.3z" fill="#fff"/>
<path d="M349.80,998.40 L349.80,865.90 L351.30,864.40 L390.30,864.40 L392.80,866.90 L392.80,998.40 Z" fill="#000"/>
<path d="M355.8,873.0h4.6v2.0h-4.6zM369.0,873.0h6.3v2.0h-6.3zM355.8,885.0h4.6v6.6h-4.6zM361.5,876.7h6.3v6.6h-6.3zM369.0,885.0h6.3v6.6h-6.3zM376.4,876.7h6.3v6.6h-6.3zM355.8,901.5h4.6v6.6h-4.6zM361.5,893.2h6.3v6.6h-6.3zM369.0,901.5h6.3v6.6h-6.3zM376.4,893.2h6.3v6.6h-6.3zM355.8,918.0h4.6v6.6h-4.6zM361.5,909.7h6.3v6.6h-6.3zM369.0,918.0h6.3v6.6h-6.3zM376.4,909.7h6.3v6.6h-6.3zM355.8,934.5h4.6v6.6h-4.6zM361.5,926.2h6.3v6.6h-6.3zM369.0,934.5h6.3v6.6h-6.3zM376.4,926.2h6.3v6.6h-6.3zM355.8,951.0h4.6v6.6h-4.6zM361.5,942.7h6.3v6.6h-6.3zM369.0,951.0h6.3v6.6h-6.3zM376.4,942.7h6.3v6.6h-6.3zM355.8,967.5h4.6v6.6h-4.6zM361.5,959.2h6.3v6.6h-6.3zM369.0,967.5h6.3v6.6h-6.3zM376.4,959.2h6.3v6.6h-6.3zM355.8,984.0h4.6v6.6h-4.6zM361.5,975.7h6.3v6.6h-6.3zM369.0,984.0h6.3v6.6h-6.3zM376.4,975.7h6.3v6.6h-6.3zM361.5,992.2h6.3v6.2h-6.3zM376.4,992.2h6.3v6.2h-6.3z" fill="#fff"/>
<path d="M439.10,998.40 L439.10,931.40 L440.60,929.90 L478.10,929.90 L480.60,932.40 L480.60,998.40 Z" fill="#000"/>
<path d="M445.6,942.7h28.4v4.0h-28.4zM445.6,951.2h28.4v4.0h-28.4zM445.6,959.7h28.4v4.0h-28.4zM445.6,968.2h28.4v4.0h-28.4zM445.6,976.7h28.4v4.0h-28.4zM445.6,985.2h28.4v4.0h-28.4zM445.6,993.7h28.4v4.0h-28.4z" fill="#fff"/>
<path d="M490.60,998.40 L490.60,720.70 L492.10,719.20 L530.90,719.20 L533.40,721.70 L533.40,998.40 Z" fill="#000"/>
<path d="M498.7,727.0h28.4v2.2h-28.4zM498.7,733.2h28.4v4.6h-28.4zM498.7,741.7h28.4v4.6h-28.4zM498.7,750.2h28.4v4.6h-28.4zM498.7,758.7h28.4v4.6h-28.4zM498.7,767.2h28.4v4.6h-28.4zM498.7,775.8h28.4v4.6h-28.4zM498.7,784.3h28.4v4.6h-28.4zM498.7,792.8h28.4v4.6h-28.4zM498.7,801.3h28.4v4.6h-28.4zM498.7,809.8h28.4v4.6h-28.4zM498.7,818.4h28.4v4.6h-28.4zM498.7,826.9h28.4v4.6h-28.4zM498.7,835.4h28.4v4.6h-28.4zM498.7,843.9h28.4v4.6h-28.4zM498.7,852.4h28.4v4.6h-28.4zM498.7,861.0h28.4v4.6h-28.4zM498.7,869.5h28.4v4.6h-28.4zM498.7,878.0h28.4v4.6h-28.4zM498.7,886.5h28.4v4.6h-28.4zM498.7,895.0h28.4v4.6h-28.4zM498.7,903.6h28.4v4.6h-28.4zM498.7,912.1h28.4v4.6h-28.4zM498.7,920.6h28.4v4.6h-28.4zM498.7,929.1h28.4v4.6h-28.4zM498.7,937.6h28.4v4.6h-28.4zM498.7,946.2h28.4v4.6h-28.4zM498.7,954.7h28.4v4.6h-28.4zM498.7,963.2h28.4v4.6h-28.4zM498.7,971.7h28.4v4.6h-28.4zM498.7,980.2h28.4v4.6h-28.4zM498.7,988.8h28.4v4.6h-28.4zM498.7,997.3h28.4v1.1h-28.4z" fill="#fff"/>
<path d="M579.50,998.40 L579.50,948.40 L581.00,946.90 L620.00,946.90 L622.50,949.40 L622.50,998.40 Z" fill="#000"/>
<path d="M587.8,954.7h5.0v43.7h-5.0zM597.8,954.7h6.7v43.7h-6.7zM609.2,954.7h5.2v43.7h-5.2z" fill="#fff"/>
<path d="M632.20,998.40 L632.20,988.20 L633.70,986.70 L672.80,986.70 L675.30,989.20 L675.30,998.40 Z" fill="#000"/>
<path d="M638.9,994.5h6.7v3.9h-6.7zM649.0,994.5h8.2v3.9h-8.2zM660.8,994.5h6.7v3.9h-6.7z" fill="#fff"/>
<rect x="164.50" y="946.70" width="23.40" height="4.20" rx="2" fill="#000"/>
<line x1="318.70" y1="908.10" x2="318.70" y2="927.30" stroke="#000" stroke-width="6.6" stroke-linecap="butt"/><path d="M305.30,908.10L308.72,904.30H326.88L330.30,908.10L326.88,911.90H308.72Z" fill="#000" stroke="#000" stroke-width="0.8" stroke-linejoin="round"/>
<line x1="371.60" y1="840.20" x2="371.60" y2="866.40" stroke="#000" stroke-width="6.6" stroke-linecap="butt"/><path d="M358.10,840.20L361.52,836.40H379.68L383.10,840.20L379.68,844.00H361.52Z" fill="#000" stroke="#000" stroke-width="0.8" stroke-linejoin="round"/>
<line x1="460.00" y1="919.20" x2="460.00" y2="931.90" stroke="#000" stroke-width="7.0" stroke-linecap="butt"/><path d="M447.50,919.20L450.83,915.50H467.17L470.50,919.20L467.17,922.90H450.83Z" fill="#000" stroke="#000" stroke-width="0.8" stroke-linejoin="round"/>
<line x1="512.60" y1="660.10" x2="512.60" y2="721.20" stroke="#000" stroke-width="7.4" stroke-linecap="butt"/><path d="M499.90,660.10L503.50,656.10H521.20L524.80,660.10L521.20,664.10H503.50Z" fill="#000" stroke="#000" stroke-width="0.8" stroke-linejoin="round"/>
<rect x="591.30" y="945.20" width="19.50" height="3.70" rx="2" fill="#000"/>
<rect x="129.80" y="585.80" width="5.50" height="418.70" fill="#000" />
<line x1="122.50" y1="1001.10" x2="700.00" y2="1001.10" stroke="#000" stroke-width="6.6" stroke-linecap="round"/>
<line x1="121.50" y1="588.20" x2="131.00" y2="588.20" stroke="#000" stroke-width="5.0" stroke-linecap="round"/>
<line x1="121.50" y1="691.40" x2="131.00" y2="691.40" stroke="#000" stroke-width="5.0" stroke-linecap="round"/>
<line x1="121.50" y1="794.60" x2="131.00" y2="794.60" stroke="#000" stroke-width="5.0" stroke-linecap="round"/>
<line x1="121.50" y1="897.90" x2="131.00" y2="897.90" stroke="#000" stroke-width="5.0" stroke-linecap="round"/>
<line x1="177.60" y1="1003.00" x2="177.60" y2="1013.50" stroke="#000" stroke-width="5.2" stroke-linecap="round"/>
<line x1="229.90" y1="1003.00" x2="229.90" y2="1013.50" stroke="#000" stroke-width="5.2" stroke-linecap="round"/>
<line x1="317.50" y1="1003.00" x2="317.50" y2="1013.50" stroke="#000" stroke-width="5.2" stroke-linecap="round"/>
<line x1="371.20" y1="1003.00" x2="371.20" y2="1013.50" stroke="#000" stroke-width="5.2" stroke-linecap="round"/>
<line x1="459.80" y1="1003.00" x2="459.80" y2="1013.50" stroke="#000" stroke-width="5.2" stroke-linecap="round"/>
<line x1="512.70" y1="1003.00" x2="512.70" y2="1013.50" stroke="#000" stroke-width="5.2" stroke-linecap="round"/>
<line x1="600.00" y1="1003.00" x2="600.00" y2="1013.50" stroke="#000" stroke-width="5.2" stroke-linecap="round"/>
<line x1="653.70" y1="1003.00" x2="653.70" y2="1013.50" stroke="#000" stroke-width="5.2" stroke-linecap="round"/>
<line x1="200.20" y1="608.40" x2="200.20" y2="631.40" stroke="#2a2a2a" stroke-width="2.4" stroke-linecap="butt"/><line x1="190.80" y1="614.15" x2="209.60" y2="625.65" stroke="#2a2a2a" stroke-width="2.4" stroke-linecap="butt"/><line x1="190.80" y1="625.65" x2="209.60" y2="614.15" stroke="#2a2a2a" stroke-width="2.4" stroke-linecap="butt"/><line x1="221.60" y1="608.40" x2="221.60" y2="631.40" stroke="#2a2a2a" stroke-width="2.4" stroke-linecap="butt"/><line x1="212.20" y1="614.15" x2="231.00" y2="625.65" stroke="#2a2a2a" stroke-width="2.4" stroke-linecap="butt"/><line x1="212.20" y1="625.65" x2="231.00" y2="614.15" stroke="#2a2a2a" stroke-width="2.4" stroke-linecap="butt"/>
<line x1="343.90" y1="605.00" x2="343.90" y2="627.60" stroke="#2a2a2a" stroke-width="2.4" stroke-linecap="butt"/><line x1="334.70" y1="610.65" x2="353.10" y2="621.95" stroke="#2a2a2a" stroke-width="2.4" stroke-linecap="butt"/><line x1="334.70" y1="621.95" x2="353.10" y2="610.65" stroke="#2a2a2a" stroke-width="2.4" stroke-linecap="butt"/>
<line x1="479.40" y1="610.00" x2="479.40" y2="633.00" stroke="#2a2a2a" stroke-width="2.4" stroke-linecap="butt"/><line x1="470.00" y1="615.75" x2="488.80" y2="627.25" stroke="#2a2a2a" stroke-width="2.4" stroke-linecap="butt"/><line x1="470.00" y1="627.25" x2="488.80" y2="615.75" stroke="#2a2a2a" stroke-width="2.4" stroke-linecap="butt"/><line x1="501.10" y1="610.00" x2="501.10" y2="633.00" stroke="#2a2a2a" stroke-width="2.4" stroke-linecap="butt"/><line x1="491.70" y1="615.75" x2="510.50" y2="627.25" stroke="#2a2a2a" stroke-width="2.4" stroke-linecap="butt"/><line x1="491.70" y1="627.25" x2="510.50" y2="615.75" stroke="#2a2a2a" stroke-width="2.4" stroke-linecap="butt"/>
<line x1="616.60" y1="611.70" x2="616.60" y2="634.70" stroke="#2a2a2a" stroke-width="2.4" stroke-linecap="butt"/><line x1="607.20" y1="617.45" x2="626.00" y2="628.95" stroke="#2a2a2a" stroke-width="2.4" stroke-linecap="butt"/><line x1="607.20" y1="628.95" x2="626.00" y2="617.45" stroke="#2a2a2a" stroke-width="2.4" stroke-linecap="butt"/><line x1="638.20" y1="611.70" x2="638.20" y2="634.70" stroke="#2a2a2a" stroke-width="2.4" stroke-linecap="butt"/><line x1="628.80" y1="617.45" x2="647.60" y2="628.95" stroke="#2a2a2a" stroke-width="2.4" stroke-linecap="butt"/><line x1="628.80" y1="628.95" x2="647.60" y2="617.45" stroke="#2a2a2a" stroke-width="2.4" stroke-linecap="butt"/>
<path d="M177.70,626.20V937.40Q178.00,939.40 179.80,940.00Q182.90,939.00 183.10,936.80V626.20Z" fill="#000"/><path d="M232.70,626.20V970.30Q233.00,972.30 234.60,972.90Q237.50,971.90 237.70,969.70V626.20Z" fill="#000"/><path d="M177.70,630.60V625.20H235.50L237.70,627.40V630.60H232.70V629.60H183.10V630.60Z" fill="#000"/>
<path d="M316.95,624.10V894.60Q317.25,896.60 319.40,897.20Q322.85,896.20 323.05,894.00V624.10Z" fill="#000"/><path d="M369.95,624.10V824.00Q370.25,826.00 371.80,826.60Q374.65,825.60 374.85,823.40V624.10Z" fill="#000"/><path d="M316.95,630.70V623.10H372.65L374.85,625.30V630.70H369.95V629.70H323.05V630.70Z" fill="#000"/>
<path d="M459.20,627.60V897.10Q459.50,899.10 461.90,899.70Q465.60,898.70 465.80,896.50V627.60Z" fill="#000"/><path d="M508.15,627.60V645.10Q508.45,647.10 510.10,647.70Q513.05,646.70 513.25,644.50V627.60Z" fill="#000"/><path d="M459.20,631.90V626.60H511.05L513.25,628.80V631.90H508.15V630.90H465.80V631.90Z" fill="#000"/>
<path d="M596.15,627.80V937.20Q596.45,939.20 598.00,939.80Q600.85,938.80 601.05,936.60V627.80Z" fill="#000"/><path d="M651.00,627.80V972.10Q651.30,974.10 652.80,974.70Q655.60,973.70 655.80,971.50V627.80Z" fill="#000"/><path d="M596.15,633.80V626.80H653.60L655.80,629.00V633.80H651.00V632.80H601.05V633.80Z" fill="#000"/>
<text transform="translate(109.50,598.80) scale(0.988,1.040)" text-anchor="middle" font-size="32.0" fill="#1c1c1c">8</text>
<text transform="translate(109.50,702.00) scale(0.988,1.040)" text-anchor="middle" font-size="32.0" fill="#1c1c1c">6</text>
<text transform="translate(109.50,805.20) scale(0.988,1.040)" text-anchor="middle" font-size="32.0" fill="#1c1c1c">4</text>
<text transform="translate(109.50,908.50) scale(0.988,1.040)" text-anchor="middle" font-size="32.0" fill="#1c1c1c">2</text>
<text transform="translate(109.50,1011.70) scale(0.988,1.040)" text-anchor="middle" font-size="32.0" fill="#1c1c1c">0</text>
<g transform="translate(172.60,1055.50) rotate(-45)"><text transform="translate(-40.50,0.00) scale(0.662,1.000)" text-anchor="middle" font-size="31.5" fill="#1c1c1c">O</text><text transform="translate(-24.30,0.00) scale(0.662,1.000)" text-anchor="middle" font-size="31.5" fill="#1c1c1c">V</text><text transform="translate(-8.10,0.00) scale(0.662,1.000)" text-anchor="middle" font-size="31.5" fill="#1c1c1c">X</text></g>
<g transform="translate(312.50,1055.50) rotate(-45)"><text transform="translate(-40.50,0.00) scale(0.662,1.000)" text-anchor="middle" font-size="31.5" fill="#1c1c1c">O</text><text transform="translate(-24.30,0.00) scale(0.662,1.000)" text-anchor="middle" font-size="31.5" fill="#1c1c1c">V</text><text transform="translate(-8.10,0.00) scale(0.662,1.000)" text-anchor="middle" font-size="31.5" fill="#1c1c1c">X</text></g>
<g transform="translate(454.80,1055.50) rotate(-45)"><text transform="translate(-40.50,0.00) scale(0.662,1.000)" text-anchor="middle" font-size="31.5" fill="#1c1c1c">O</text><text transform="translate(-24.30,0.00) scale(0.662,1.000)" text-anchor="middle" font-size="31.5" fill="#1c1c1c">V</text><text transform="translate(-8.10,0.00) scale(0.662,1.000)" text-anchor="middle" font-size="31.5" fill="#1c1c1c">X</text></g>
<g transform="translate(595.00,1055.50) rotate(-45)"><text transform="translate(-40.50,0.00) scale(0.662,1.000)" text-anchor="middle" font-size="31.5" fill="#1c1c1c">O</text><text transform="translate(-24.30,0.00) scale(0.662,1.000)" text-anchor="middle" font-size="31.5" fill="#1c1c1c">V</text><text transform="translate(-8.10,0.00) scale(0.662,1.000)" text-anchor="middle" font-size="31.5" fill="#1c1c1c">X</text></g>
<g transform="translate(224.40,1054.50) rotate(-45)"><text transform="translate(-39.00,0.00) scale(0.691,1.000)" text-anchor="middle" font-size="31.5" fill="#1c1c1c">R</text><text transform="translate(-23.40,0.00) scale(0.638,1.000)" text-anchor="middle" font-size="31.5" fill="#1c1c1c">D</text><text transform="translate(-7.80,0.00) scale(0.754,1.000)" text-anchor="middle" font-size="31.5" fill="#1c1c1c">E</text></g>
<g transform="translate(365.70,1054.50) rotate(-45)"><text transform="translate(-39.00,0.00) scale(0.691,1.000)" text-anchor="middle" font-size="31.5" fill="#1c1c1c">R</text><text transform="translate(-23.40,0.00) scale(0.638,1.000)" text-anchor="middle" font-size="31.5" fill="#1c1c1c">D</text><text transform="translate(-7.80,0.00) scale(0.754,1.000)" text-anchor="middle" font-size="31.5" fill="#1c1c1c">E</text></g>
<g transform="translate(507.20,1054.50) rotate(-45)"><text transform="translate(-39.00,0.00) scale(0.691,1.000)" text-anchor="middle" font-size="31.5" fill="#1c1c1c">R</text><text transform="translate(-23.40,0.00) scale(0.638,1.000)" text-anchor="middle" font-size="31.5" fill="#1c1c1c">D</text><text transform="translate(-7.80,0.00) scale(0.754,1.000)" text-anchor="middle" font-size="31.5" fill="#1c1c1c">E</text></g>
<g transform="translate(648.20,1054.50) rotate(-45)"><text transform="translate(-39.00,0.00) scale(0.691,1.000)" text-anchor="middle" font-size="31.5" fill="#1c1c1c">R</text><text transform="translate(-23.40,0.00) scale(0.638,1.000)" text-anchor="middle" font-size="31.5" fill="#1c1c1c">D</text><text transform="translate(-7.80,0.00) scale(0.754,1.000)" text-anchor="middle" font-size="31.5" fill="#1c1c1c">E</text></g>
<path d="M752.1,646.7H794.9L797.5,649.3V667.6L792.9,670.2H753.1L749.5,667.6V649.3Z" fill="#000"/><path d="M757.1,653.7h3.3v3.0h-3.3zM765.0,653.7h1.7v3.0h-1.7zM772.5,653.7h1.8v3.0h-1.8zM780.2,653.7h1.8v3.0h-1.8zM786.6,653.7h3.3v3.0h-3.3zM762.1,658.5h1.2v1.6h-1.2zM768.0,658.5h3.4v1.6h-3.4zM775.6,658.5h3.4v1.6h-3.4zM783.8,658.5h1.2v1.6h-1.2z" fill="#fff"/>
<text transform="translate(821.40,667.30) scale(1.220,1.060)" text-anchor="middle" font-size="24.5" fill="#1c1c1c">r</text><text transform="translate(834.60,667.30) scale(1.000,1.060)" text-anchor="middle" font-size="24.5" fill="#1c1c1c">n</text><text transform="translate(847.80,667.30) scale(1.000,1.060)" text-anchor="middle" font-size="24.5" fill="#1c1c1c">o</text><text transform="translate(861.00,662.30) scale(0.927,1.060)" text-anchor="middle" font-size="24.5" fill="#1c1c1c">–</text><text transform="translate(874.20,667.30) scale(0.644,1.060)" text-anchor="middle" font-size="24.5" fill="#1c1c1c">m</text><text transform="translate(887.40,667.30) scale(1.220,1.060)" text-anchor="middle" font-size="24.5" fill="#1c1c1c">i</text><text transform="translate(900.60,667.30) scale(0.751,1.060)" text-anchor="middle" font-size="24.5" fill="#1c1c1c">R</text><text transform="translate(913.80,662.30) scale(0.927,1.060)" text-anchor="middle" font-size="24.5" fill="#1c1c1c">–</text><text transform="translate(927.00,667.30) scale(1.000,1.060)" text-anchor="middle" font-size="24.5" fill="#1c1c1c">1</text><text transform="translate(940.20,667.30) scale(1.000,1.060)" text-anchor="middle" font-size="24.5" fill="#1c1c1c">8</text><text transform="translate(953.40,667.30) scale(1.000,1.060)" text-anchor="middle" font-size="24.5" fill="#1c1c1c">1</text><text transform="translate(966.60,667.30) scale(1.000,1.060)" text-anchor="middle" font-size="24.5" fill="#1c1c1c">d</text><text transform="translate(979.80,662.30) scale(0.927,1.060)" text-anchor="middle" font-size="24.5" fill="#1c1c1c">–</text><text transform="translate(993.00,667.30) scale(1.000,1.060)" text-anchor="middle" font-size="24.5" fill="#1c1c1c">5</text><text transform="translate(1006.20,667.30) scale(1.000,1.060)" text-anchor="middle" font-size="24.5" fill="#1c1c1c">p</text>
<path d="M752.1,698.9H794.9L797.5,701.5V719.8L792.9,722.4H753.1L749.5,719.8V701.5Z" fill="#000"/><path d="M757.1,705.3h3.3v3.4h-3.3zM768.0,705.3h6.3v3.4h-6.3zM783.5,705.3h6.3v3.4h-6.3zM762.0,710.6h4.7v3.0h-4.7zM775.6,710.6h6.3v3.0h-6.3z" fill="#fff"/>
<text transform="translate(821.40,718.40) scale(1.220,1.060)" text-anchor="middle" font-size="24.5" fill="#1c1c1c">r</text><text transform="translate(834.60,718.40) scale(1.000,1.060)" text-anchor="middle" font-size="24.5" fill="#1c1c1c">n</text><text transform="translate(847.80,718.40) scale(1.000,1.060)" text-anchor="middle" font-size="24.5" fill="#1c1c1c">o</text><text transform="translate(861.00,713.40) scale(0.927,1.060)" text-anchor="middle" font-size="24.5" fill="#1c1c1c">–</text><text transform="translate(874.20,718.40) scale(0.644,1.060)" text-anchor="middle" font-size="24.5" fill="#1c1c1c">m</text><text transform="translate(887.40,718.40) scale(1.220,1.060)" text-anchor="middle" font-size="24.5" fill="#1c1c1c">i</text><text transform="translate(900.60,718.40) scale(0.751,1.060)" text-anchor="middle" font-size="24.5" fill="#1c1c1c">R</text><text transform="translate(913.80,713.40) scale(0.927,1.060)" text-anchor="middle" font-size="24.5" fill="#1c1c1c">–</text><text transform="translate(927.00,718.40) scale(1.000,1.060)" text-anchor="middle" font-size="24.5" fill="#1c1c1c">2</text><text transform="translate(940.20,718.40) scale(1.000,1.060)" text-anchor="middle" font-size="24.5" fill="#1c1c1c">3</text><text transform="translate(953.40,718.40) scale(1.000,1.060)" text-anchor="middle" font-size="24.5" fill="#1c1c1c">b</text><text transform="translate(966.60,713.40) scale(0.927,1.060)" text-anchor="middle" font-size="24.5" fill="#1c1c1c">–</text><text transform="translate(979.80,718.40) scale(1.000,1.060)" text-anchor="middle" font-size="24.5" fill="#1c1c1c">3</text><text transform="translate(993.00,718.40) scale(1.000,1.060)" text-anchor="middle" font-size="24.5" fill="#1c1c1c">p</text>
<path d="M752.1,748.3H794.9L797.5,750.9V769.5L792.9,772.1H753.1L749.5,769.5V750.9Z" fill="#000"/><path d="M757.1,756.3h32.7v3.9h-32.7zM757.1,763.1h32.7v2.0h-32.7z" fill="#fff"/>
<text transform="translate(821.40,767.80) scale(1.220,1.060)" text-anchor="middle" font-size="24.5" fill="#1c1c1c">r</text><text transform="translate(834.60,767.80) scale(1.000,1.060)" text-anchor="middle" font-size="24.5" fill="#1c1c1c">n</text><text transform="translate(847.80,767.80) scale(1.000,1.060)" text-anchor="middle" font-size="24.5" fill="#1c1c1c">o</text><text transform="translate(861.00,762.80) scale(0.927,1.060)" text-anchor="middle" font-size="24.5" fill="#1c1c1c">–</text><text transform="translate(874.20,767.80) scale(0.644,1.060)" text-anchor="middle" font-size="24.5" fill="#1c1c1c">m</text><text transform="translate(887.40,767.80) scale(1.220,1.060)" text-anchor="middle" font-size="24.5" fill="#1c1c1c">i</text><text transform="translate(900.60,767.80) scale(0.751,1.060)" text-anchor="middle" font-size="24.5" fill="#1c1c1c">R</text><text transform="translate(913.80,762.80) scale(0.927,1.060)" text-anchor="middle" font-size="24.5" fill="#1c1c1c">–</text><text transform="translate(927.00,767.80) scale(1.000,1.060)" text-anchor="middle" font-size="24.5" fill="#1c1c1c">2</text><text transform="translate(940.20,767.80) scale(1.000,1.060)" text-anchor="middle" font-size="24.5" fill="#1c1c1c">1</text><text transform="translate(953.40,767.80) scale(1.000,1.060)" text-anchor="middle" font-size="24.5" fill="#1c1c1c">4</text><text transform="translate(966.60,762.80) scale(0.927,1.060)" text-anchor="middle" font-size="24.5" fill="#1c1c1c">–</text><text transform="translate(979.80,767.80) scale(1.000,1.060)" text-anchor="middle" font-size="24.5" fill="#1c1c1c">3</text><text transform="translate(993.00,767.80) scale(1.000,1.060)" text-anchor="middle" font-size="24.5" fill="#1c1c1c">p</text>
<path d="M752.1,795.1H794.9L797.5,797.7V816.9L792.9,819.5H753.1L749.5,816.9V797.7Z" fill="#000"/><path d="M757.1,803.3h4.8v6.9h-4.8zM764.9,803.3h6.5v6.9h-6.5zM775.6,803.3h6.3v6.9h-6.3zM784.7,803.3h5.1v6.9h-5.1z" fill="#fff"/>
<text transform="translate(821.40,815.20) scale(1.220,1.060)" text-anchor="middle" font-size="24.5" fill="#1c1c1c">r</text><text transform="translate(834.60,815.20) scale(1.000,1.060)" text-anchor="middle" font-size="24.5" fill="#1c1c1c">n</text><text transform="translate(847.80,815.20) scale(1.000,1.060)" text-anchor="middle" font-size="24.5" fill="#1c1c1c">o</text><text transform="translate(861.00,810.20) scale(0.927,1.060)" text-anchor="middle" font-size="24.5" fill="#1c1c1c">–</text><text transform="translate(874.20,815.20) scale(0.644,1.060)" text-anchor="middle" font-size="24.5" fill="#1c1c1c">m</text><text transform="translate(887.40,815.20) scale(1.220,1.060)" text-anchor="middle" font-size="24.5" fill="#1c1c1c">i</text><text transform="translate(900.60,815.20) scale(0.751,1.060)" text-anchor="middle" font-size="24.5" fill="#1c1c1c">R</text><text transform="translate(913.80,810.20) scale(0.927,1.060)" text-anchor="middle" font-size="24.5" fill="#1c1c1c">–</text><text transform="translate(927.00,815.20) scale(1.000,1.060)" text-anchor="middle" font-size="24.5" fill="#1c1c1c">2</text><text transform="translate(940.20,815.20) scale(1.000,1.060)" text-anchor="middle" font-size="24.5" fill="#1c1c1c">0</text><text transform="translate(953.40,815.20) scale(1.000,1.060)" text-anchor="middle" font-size="24.5" fill="#1c1c1c">0</text><text transform="translate(966.60,815.20) scale(1.000,1.060)" text-anchor="middle" font-size="24.5" fill="#1c1c1c">c</text><text transform="translate(979.80,810.20) scale(0.927,1.060)" text-anchor="middle" font-size="24.5" fill="#1c1c1c">–</text><text transform="translate(993.00,815.20) scale(1.000,1.060)" text-anchor="middle" font-size="24.5" fill="#1c1c1c">3</text><text transform="translate(1006.20,815.20) scale(1.000,1.060)" text-anchor="middle" font-size="24.5" fill="#1c1c1c">p</text>
<text transform="translate(67.40,918.00) rotate(-90)" font-size="42" font-weight="bold" fill="#000">2</text><text transform="translate(41.60,896.80) rotate(-90)" font-size="27.5" font-weight="bold" fill="#000">−ΔΔCT</text>
<rect x="90.3" y="841" width="1.6" height="13" fill="#a9ecf5"/>
<text x="509.5" y="1140.5" font-size="42" font-weight="bold" fill="#000">b</text>
<path d="M223.10,1564.50 L223.10,1269.60 L224.60,1268.10 L286.50,1268.10 L289.00,1270.60 L289.00,1564.50 Z" fill="#000"/>
<path d="M231.2,1274.3h3.5v3.5h-3.5zM236.0,1279.1h1.8v1.7h-1.8zM239.1,1274.3h3.5v3.5h-3.5zM243.8,1279.1h1.8v1.7h-1.8zM247.8,1274.3h1.7v3.5h-1.7zM250.9,1279.1h3.4v1.7h-3.4zM255.6,1274.3h1.7v3.5h-1.7zM259.5,1279.1h1.8v1.7h-1.8zM262.6,1274.3h3.5v3.5h-3.5zM267.3,1279.1h1.8v1.7h-1.8zM271.3,1274.3h1.7v3.5h-1.7zM274.4,1279.1h3.4v1.7h-3.4zM279.2,1274.3h1.7v3.5h-1.7zM231.2,1282.2h3.5v3.5h-3.5zM236.0,1287.0h1.8v1.7h-1.8zM239.1,1282.2h3.5v3.5h-3.5zM243.8,1287.0h1.8v1.7h-1.8zM247.8,1282.2h1.7v3.5h-1.7zM250.9,1287.0h3.4v1.7h-3.4zM255.6,1282.2h1.7v3.5h-1.7zM259.5,1287.0h1.8v1.7h-1.8zM262.6,1282.2h3.5v3.5h-3.5zM267.3,1287.0h1.8v1.7h-1.8zM271.3,1282.2h1.7v3.5h-1.7zM274.4,1287.0h3.4v1.7h-3.4zM279.2,1282.2h1.7v3.5h-1.7zM231.2,1290.1h3.5v3.5h-3.5zM236.0,1294.1h1.8v3.4h-1.8zM239.1,1290.1h3.5v3.5h-3.5zM243.8,1294.1h1.8v3.4h-1.8zM247.8,1290.1h1.7v3.5h-1.7zM250.9,1294.1h3.4v3.4h-3.4zM255.6,1290.1h1.7v3.5h-1.7zM259.5,1294.1h1.8v3.4h-1.8zM262.6,1290.1h3.5v3.5h-3.5zM267.3,1294.1h1.8v3.4h-1.8zM271.3,1290.1h1.7v3.5h-1.7zM274.4,1294.1h3.4v3.4h-3.4zM279.2,1290.1h1.7v3.5h-1.7zM231.2,1298.9h3.5v1.6h-3.5zM236.0,1302.0h1.8v3.4h-1.8zM239.1,1298.9h3.5v1.6h-3.5zM243.8,1302.0h1.8v3.4h-1.8zM247.8,1298.9h1.7v1.6h-1.7zM250.9,1302.0h3.4v3.4h-3.4zM255.6,1298.9h1.7v1.6h-1.7zM259.5,1302.0h1.8v3.4h-1.8zM262.6,1298.9h3.5v1.6h-3.5zM267.3,1302.0h1.8v3.4h-1.8zM271.3,1298.9h1.7v1.6h-1.7zM274.4,1302.0h3.4v3.4h-3.4zM279.2,1298.9h1.7v1.6h-1.7zM231.2,1305.9h3.5v3.5h-3.5zM236.0,1310.7h1.8v1.7h-1.8zM239.1,1305.9h3.5v3.5h-3.5zM243.8,1310.7h1.8v1.7h-1.8zM247.8,1305.9h1.7v3.5h-1.7zM250.9,1310.7h3.4v1.7h-3.4zM255.6,1305.9h1.7v3.5h-1.7zM259.5,1310.7h1.8v1.7h-1.8zM262.6,1305.9h3.5v3.5h-3.5zM267.3,1310.7h1.8v1.7h-1.8zM271.3,1305.9h1.7v3.5h-1.7zM274.4,1310.7h3.4v1.7h-3.4zM279.2,1305.9h1.7v3.5h-1.7zM231.2,1313.8h3.5v3.5h-3.5zM236.0,1318.6h1.8v1.7h-1.8zM239.1,1313.8h3.5v3.5h-3.5zM243.8,1318.6h1.8v1.7h-1.8zM247.8,1313.8h1.7v3.5h-1.7zM250.9,1318.6h3.4v1.7h-3.4zM255.6,1313.8h1.7v3.5h-1.7zM259.5,1318.6h1.8v1.7h-1.8zM262.6,1313.8h3.5v3.5h-3.5zM267.3,1318.6h1.8v1.7h-1.8zM271.3,1313.8h1.7v3.5h-1.7zM274.4,1318.6h3.4v1.7h-3.4zM279.2,1313.8h1.7v3.5h-1.7zM231.2,1321.7h3.5v3.5h-3.5zM236.0,1325.7h1.8v3.4h-1.8zM239.1,1321.7h3.5v3.5h-3.5zM243.8,1325.7h1.8v3.4h-1.8zM247.8,1321.7h1.7v3.5h-1.7zM250.9,1325.7h3.4v3.4h-3.4zM255.6,1321.7h1.7v3.5h-1.7zM259.5,1325.7h1.8v3.4h-1.8zM262.6,1321.7h3.5v3.5h-3.5zM267.3,1325.7h1.8v3.4h-1.8zM271.3,1321.7h1.7v3.5h-1.7zM274.4,1325.7h3.4v3.4h-3.4zM279.2,1321.7h1.7v3.5h-1.7zM231.2,1330.5h3.5v1.6h-3.5zM236.0,1333.6h1.8v3.4h-1.8zM239.1,1330.5h3.5v1.6h-3.5zM243.8,1333.6h1.8v3.4h-1.8zM247.8,1330.5h1.7v1.6h-1.7zM250.9,1333.6h3.4v3.4h-3.4zM255.6,1330.5h1.7v1.6h-1.7zM259.5,1333.6h1.8v3.4h-1.8zM262.6,1330.5h3.5v1.6h-3.5zM267.3,1333.6h1.8v3.4h-1.8zM271.3,1330.5h1.7v1.6h-1.7zM274.4,1333.6h3.4v3.4h-3.4zM279.2,1330.5h1.7v1.6h-1.7zM231.2,1337.5h3.5v3.5h-3.5zM236.0,1342.3h1.8v1.7h-1.8zM239.1,1337.5h3.5v3.5h-3.5zM243.8,1342.3h1.8v1.7h-1.8zM247.8,1337.5h1.7v3.5h-1.7zM250.9,1342.3h3.4v1.7h-3.4zM255.6,1337.5h1.7v3.5h-1.7zM259.5,1342.3h1.8v1.7h-1.8zM262.6,1337.5h3.5v3.5h-3.5zM267.3,1342.3h1.8v1.7h-1.8zM271.3,1337.5h1.7v3.5h-1.7zM274.4,1342.3h3.4v1.7h-3.4zM279.2,1337.5h1.7v3.5h-1.7zM231.2,1345.4h3.5v3.5h-3.5zM236.0,1350.2h1.8v1.7h-1.8zM239.1,1345.4h3.5v3.5h-3.5zM243.8,1350.2h1.8v1.7h-1.8zM247.8,1345.4h1.7v3.5h-1.7zM250.9,1350.2h3.4v1.7h-3.4zM255.6,1345.4h1.7v3.5h-1.7zM259.5,1350.2h1.8v1.7h-1.8zM262.6,1345.4h3.5v3.5h-3.5zM267.3,1350.2h1.8v1.7h-1.8zM271.3,1345.4h1.7v3.5h-1.7zM274.4,1350.2h3.4v1.7h-3.4zM279.2,1345.4h1.7v3.5h-1.7zM231.2,1353.3h3.5v3.5h-3.5zM236.0,1357.3h1.8v3.4h-1.8zM239.1,1353.3h3.5v3.5h-3.5zM243.8,1357.3h1.8v3.4h-1.8zM247.8,1353.3h1.7v3.5h-1.7zM250.9,1357.3h3.4v3.4h-3.4zM255.6,1353.3h1.7v3.5h-1.7zM259.5,1357.3h1.8v3.4h-1.8zM262.6,1353.3h3.5v3.5h-3.5zM267.3,1357.3h1.8v3.4h-1.8zM271.3,1353.3h1.7v3.5h-1.7zM274.4,1357.3h3.4v3.4h-3.4zM279.2,1353.3h1.7v3.5h-1.7zM231.2,1362.1h3.5v1.6h-3.5zM236.0,1365.2h1.8v3.4h-1.8zM239.1,1362.1h3.5v1.6h-3.5zM243.8,1365.2h1.8v3.4h-1.8zM247.8,1362.1h1.7v1.6h-1.7zM250.9,1365.2h3.4v3.4h-3.4zM255.6,1362.1h1.7v1.6h-1.7zM259.5,1365.2h1.8v3.4h-1.8zM262.6,1362.1h3.5v1.6h-3.5zM267.3,1365.2h1.8v3.4h-1.8zM271.3,1362.1h1.7v1.6h-1.7zM274.4,1365.2h3.4v3.4h-3.4zM279.2,1362.1h1.7v1.6h-1.7zM231.2,1369.1h3.5v3.5h-3.5zM236.0,1373.9h1.8v1.7h-1.8zM239.1,1369.1h3.5v3.5h-3.5zM243.8,1373.9h1.8v1.7h-1.8zM247.8,1369.1h1.7v3.5h-1.7zM250.9,1373.9h3.4v1.7h-3.4zM255.6,1369.1h1.7v3.5h-1.7zM259.5,1373.9h1.8v1.7h-1.8zM262.6,1369.1h3.5v3.5h-3.5zM267.3,1373.9h1.8v1.7h-1.8zM271.3,1369.1h1.7v3.5h-1.7zM274.4,1373.9h3.4v1.7h-3.4zM279.2,1369.1h1.7v3.5h-1.7zM231.2,1377.0h3.5v3.5h-3.5zM236.0,1381.8h1.8v1.7h-1.8zM239.1,1377.0h3.5v3.5h-3.5zM243.8,1381.8h1.8v1.7h-1.8zM247.8,1377.0h1.7v3.5h-1.7zM250.9,1381.8h3.4v1.7h-3.4zM255.6,1377.0h1.7v3.5h-1.7zM259.5,1381.8h1.8v1.7h-1.8zM262.6,1377.0h3.5v3.5h-3.5zM267.3,1381.8h1.8v1.7h-1.8zM271.3,1377.0h1.7v3.5h-1.7zM274.4,1381.8h3.4v1.7h-3.4zM279.2,1377.0h1.7v3.5h-1.7zM231.2,1384.9h3.5v3.5h-3.5zM236.0,1388.9h1.8v3.4h-1.8zM239.1,1384.9h3.5v3.5h-3.5zM243.8,1388.9h1.8v3.4h-1.8zM247.8,1384.9h1.7v3.5h-1.7zM250.9,1388.9h3.4v3.4h-3.4zM255.6,1384.9h1.7v3.5h-1.7zM259.5,1388.9h1.8v3.4h-1.8zM262.6,1384.9h3.5v3.5h-3.5zM267.3,1388.9h1.8v3.4h-1.8zM271.3,1384.9h1.7v3.5h-1.7zM274.4,1388.9h3.4v3.4h-3.4zM279.2,1384.9h1.7v3.5h-1.7zM231.2,1393.7h3.5v1.6h-3.5zM236.0,1396.8h1.8v3.4h-1.8zM239.1,1393.7h3.5v1.6h-3.5zM243.8,1396.8h1.8v3.4h-1.8zM247.8,1393.7h1.7v1.6h-1.7zM250.9,1396.8h3.4v3.4h-3.4zM255.6,1393.7h1.7v1.6h-1.7zM259.5,1396.8h1.8v3.4h-1.8zM262.6,1393.7h3.5v1.6h-3.5zM267.3,1396.8h1.8v3.4h-1.8zM271.3,1393.7h1.7v1.6h-1.7zM274.4,1396.8h3.4v3.4h-3.4zM279.2,1393.7h1.7v1.6h-1.7zM231.2,1400.7h3.5v3.5h-3.5zM236.0,1405.5h1.8v1.7h-1.8zM239.1,1400.7h3.5v3.5h-3.5zM243.8,1405.5h1.8v1.7h-1.8zM247.8,1400.7h1.7v3.5h-1.7zM250.9,1405.5h3.4v1.7h-3.4zM255.6,1400.7h1.7v3.5h-1.7zM259.5,1405.5h1.8v1.7h-1.8zM262.6,1400.7h3.5v3.5h-3.5zM267.3,1405.5h1.8v1.7h-1.8zM271.3,1400.7h1.7v3.5h-1.7zM274.4,1405.5h3.4v1.7h-3.4zM279.2,1400.7h1.7v3.5h-1.7zM231.2,1408.6h3.5v3.5h-3.5zM236.0,1413.4h1.8v1.7h-1.8zM239.1,1408.6h3.5v3.5h-3.5zM243.8,1413.4h1.8v1.7h-1.8zM247.8,1408.6h1.7v3.5h-1.7zM250.9,1413.4h3.4v1.7h-3.4zM255.6,1408.6h1.7v3.5h-1.7zM259.5,1413.4h1.8v1.7h-1.8zM262.6,1408.6h3.5v3.5h-3.5zM267.3,1413.4h1.8v1.7h-1.8zM271.3,1408.6h1.7v3.5h-1.7zM274.4,1413.4h3.4v1.7h-3.4zM279.2,1408.6h1.7v3.5h-1.7zM231.2,1416.5h3.5v3.5h-3.5zM236.0,1420.5h1.8v3.4h-1.8zM239.1,1416.5h3.5v3.5h-3.5zM243.8,1420.5h1.8v3.4h-1.8zM247.8,1416.5h1.7v3.5h-1.7zM250.9,1420.5h3.4v3.4h-3.4zM255.6,1416.5h1.7v3.5h-1.7zM259.5,1420.5h1.8v3.4h-1.8zM262.6,1416.5h3.5v3.5h-3.5zM267.3,1420.5h1.8v3.4h-1.8zM271.3,1416.5h1.7v3.5h-1.7zM274.4,1420.5h3.4v3.4h-3.4zM279.2,1416.5h1.7v3.5h-1.7zM231.2,1425.3h3.5v1.6h-3.5zM236.0,1428.4h1.8v3.4h-1.8zM239.1,1425.3h3.5v1.6h-3.5zM243.8,1428.4h1.8v3.4h-1.8zM247.8,1425.3h1.7v1.6h-1.7zM250.9,1428.4h3.4v3.4h-3.4zM255.6,1425.3h1.7v1.6h-1.7zM259.5,1428.4h1.8v3.4h-1.8zM262.6,1425.3h3.5v1.6h-3.5zM267.3,1428.4h1.8v3.4h-1.8zM271.3,1425.3h1.7v1.6h-1.7zM274.4,1428.4h3.4v3.4h-3.4zM279.2,1425.3h1.7v1.6h-1.7zM231.2,1432.3h3.5v3.5h-3.5zM236.0,1437.1h1.8v1.7h-1.8zM239.1,1432.3h3.5v3.5h-3.5zM243.8,1437.1h1.8v1.7h-1.8zM247.8,1432.3h1.7v3.5h-1.7zM250.9,1437.1h3.4v1.7h-3.4zM255.6,1432.3h1.7v3.5h-1.7zM259.5,1437.1h1.8v1.7h-1.8zM262.6,1432.3h3.5v3.5h-3.5zM267.3,1437.1h1.8v1.7h-1.8zM271.3,1432.3h1.7v3.5h-1.7zM274.4,1437.1h3.4v1.7h-3.4zM279.2,1432.3h1.7v3.5h-1.7zM231.2,1440.2h3.5v3.5h-3.5zM236.0,1445.0h1.8v1.7h-1.8zM239.1,1440.2h3.5v3.5h-3.5zM243.8,1445.0h1.8v1.7h-1.8zM247.8,1440.2h1.7v3.5h-1.7zM250.9,1445.0h3.4v1.7h-3.4zM255.6,1440.2h1.7v3.5h-1.7zM259.5,1445.0h1.8v1.7h-1.8zM262.6,1440.2h3.5v3.5h-3.5zM267.3,1445.0h1.8v1.7h-1.8zM271.3,1440.2h1.7v3.5h-1.7zM274.4,1445.0h3.4v1.7h-3.4zM279.2,1440.2h1.7v3.5h-1.7zM231.2,1448.1h3.5v3.5h-3.5zM236.0,1452.1h1.8v3.4h-1.8zM239.1,1448.1h3.5v3.5h-3.5zM243.8,1452.1h1.8v3.4h-1.8zM247.8,1448.1h1.7v3.5h-1.7zM250.9,1452.1h3.4v3.4h-3.4zM255.6,1448.1h1.7v3.5h-1.7zM259.5,1452.1h1.8v3.4h-1.8zM262.6,1448.1h3.5v3.5h-3.5zM267.3,1452.1h1.8v3.4h-1.8zM271.3,1448.1h1.7v3.5h-1.7zM274.4,1452.1h3.4v3.4h-3.4zM279.2,1448.1h1.7v3.5h-1.7zM231.2,1456.9h3.5v1.6h-3.5zM236.0,1460.0h1.8v3.4h-1.8zM239.1,1456.9h3.5v1.6h-3.5zM243.8,1460.0h1.8v3.4h-1.8zM247.8,1456.9h1.7v1.6h-1.7zM250.9,1460.0h3.4v3.4h-3.4zM255.6,1456.9h1.7v1.6h-1.7zM259.5,1460.0h1.8v3.4h-1.8zM262.6,1456.9h3.5v1.6h-3.5zM267.3,1460.0h1.8v3.4h-1.8zM271.3,1456.9h1.7v1.6h-1.7zM274.4,1460.0h3.4v3.4h-3.4zM279.2,1456.9h1.7v1.6h-1.7zM231.2,1463.9h3.5v3.5h-3.5zM236.0,1468.7h1.8v1.7h-1.8zM239.1,1463.9h3.5v3.5h-3.5zM243.8,1468.7h1.8v1.7h-1.8zM247.8,1463.9h1.7v3.5h-1.7zM250.9,1468.7h3.4v1.7h-3.4zM255.6,1463.9h1.7v3.5h-1.7zM259.5,1468.7h1.8v1.7h-1.8zM262.6,1463.9h3.5v3.5h-3.5zM267.3,1468.7h1.8v1.7h-1.8zM271.3,1463.9h1.7v3.5h-1.7zM274.4,1468.7h3.4v1.7h-3.4zM279.2,1463.9h1.7v3.5h-1.7zM231.2,1471.8h3.5v3.5h-3.5zM236.0,1476.6h1.8v1.7h-1.8zM239.1,1471.8h3.5v3.5h-3.5zM243.8,1476.6h1.8v1.7h-1.8zM247.8,1471.8h1.7v3.5h-1.7zM250.9,1476.6h3.4v1.7h-3.4zM255.6,1471.8h1.7v3.5h-1.7zM259.5,1476.6h1.8v1.7h-1.8zM262.6,1471.8h3.5v3.5h-3.5zM267.3,1476.6h1.8v1.7h-1.8zM271.3,1471.8h1.7v3.5h-1.7zM274.4,1476.6h3.4v1.7h-3.4zM279.2,1471.8h1.7v3.5h-1.7zM231.2,1479.7h3.5v3.5h-3.5zM236.0,1483.7h1.8v3.4h-1.8zM239.1,1479.7h3.5v3.5h-3.5zM243.8,1483.7h1.8v3.4h-1.8zM247.8,1479.7h1.7v3.5h-1.7zM250.9,1483.7h3.4v3.4h-3.4zM255.6,1479.7h1.7v3.5h-1.7zM259.5,1483.7h1.8v3.4h-1.8zM262.6,1479.7h3.5v3.5h-3.5zM267.3,1483.7h1.8v3.4h-1.8zM271.3,1479.7h1.7v3.5h-1.7zM274.4,1483.7h3.4v3.4h-3.4zM279.2,1479.7h1.7v3.5h-1.7zM231.2,1488.5h3.5v1.6h-3.5zM236.0,1491.6h1.8v3.4h-1.8zM239.1,1488.5h3.5v1.6h-3.5zM243.8,1491.6h1.8v3.4h-1.8zM247.8,1488.5h1.7v1.6h-1.7zM250.9,1491.6h3.4v3.4h-3.4zM255.6,1488.5h1.7v1.6h-1.7zM259.5,1491.6h1.8v3.4h-1.8zM262.6,1488.5h3.5v1.6h-3.5zM267.3,1491.6h1.8v3.4h-1.8zM271.3,1488.5h1.7v1.6h-1.7zM274.4,1491.6h3.4v3.4h-3.4zM279.2,1488.5h1.7v1.6h-1.7zM231.2,1495.5h3.5v3.5h-3.5zM236.0,1500.3h1.8v1.7h-1.8zM239.1,1495.5h3.5v3.5h-3.5zM243.8,1500.3h1.8v1.7h-1.8zM247.8,1495.5h1.7v3.5h-1.7zM250.9,1500.3h3.4v1.7h-3.4zM255.6,1495.5h1.7v3.5h-1.7zM259.5,1500.3h1.8v1.7h-1.8zM262.6,1495.5h3.5v3.5h-3.5zM267.3,1500.3h1.8v1.7h-1.8zM271.3,1495.5h1.7v3.5h-1.7zM274.4,1500.3h3.4v1.7h-3.4zM279.2,1495.5h1.7v3.5h-1.7zM231.2,1503.4h3.5v3.5h-3.5zM236.0,1508.2h1.8v1.7h-1.8zM239.1,1503.4h3.5v3.5h-3.5zM243.8,1508.2h1.8v1.7h-1.8zM247.8,1503.4h1.7v3.5h-1.7zM250.9,1508.2h3.4v1.7h-3.4zM255.6,1503.4h1.7v3.5h-1.7zM259.5,1508.2h1.8v1.7h-1.8zM262.6,1503.4h3.5v3.5h-3.5zM267.3,1508.2h1.8v1.7h-1.8zM271.3,1503.4h1.7v3.5h-1.7zM274.4,1508.2h3.4v1.7h-3.4zM279.2,1503.4h1.7v3.5h-1.7zM231.2,1511.3h3.5v3.5h-3.5zM236.0,1515.3h1.8v3.4h-1.8zM239.1,1511.3h3.5v3.5h-3.5zM243.8,1515.3h1.8v3.4h-1.8zM247.8,1511.3h1.7v3.5h-1.7zM250.9,1515.3h3.4v3.4h-3.4zM255.6,1511.3h1.7v3.5h-1.7zM259.5,1515.3h1.8v3.4h-1.8zM262.6,1511.3h3.5v3.5h-3.5zM267.3,1515.3h1.8v3.4h-1.8zM271.3,1511.3h1.7v3.5h-1.7zM274.4,1515.3h3.4v3.4h-3.4zM279.2,1511.3h1.7v3.5h-1.7zM231.2,1520.1h3.5v1.6h-3.5zM236.0,1523.2h1.8v3.4h-1.8zM239.1,1520.1h3.5v1.6h-3.5zM243.8,1523.2h1.8v3.4h-1.8zM247.8,1520.1h1.7v1.6h-1.7zM250.9,1523.2h3.4v3.4h-3.4zM255.6,1520.1h1.7v1.6h-1.7zM259.5,1523.2h1.8v3.4h-1.8zM262.6,1520.1h3.5v1.6h-3.5zM267.3,1523.2h1.8v3.4h-1.8zM271.3,1520.1h1.7v1.6h-1.7zM274.4,1523.2h3.4v3.4h-3.4zM279.2,1520.1h1.7v1.6h-1.7zM231.2,1527.1h3.5v3.5h-3.5zM236.0,1531.9h1.8v1.7h-1.8zM239.1,1527.1h3.5v3.5h-3.5zM243.8,1531.9h1.8v1.7h-1.8zM247.8,1527.1h1.7v3.5h-1.7zM250.9,1531.9h3.4v1.7h-3.4zM255.6,1527.1h1.7v3.5h-1.7zM259.5,1531.9h1.8v1.7h-1.8zM262.6,1527.1h3.5v3.5h-3.5zM267.3,1531.9h1.8v1.7h-1.8zM271.3,1527.1h1.7v3.5h-1.7zM274.4,1531.9h3.4v1.7h-3.4zM279.2,1527.1h1.7v3.5h-1.7zM231.2,1535.0h3.5v3.5h-3.5zM236.0,1539.8h1.8v1.7h-1.8zM239.1,1535.0h3.5v3.5h-3.5zM243.8,1539.8h1.8v1.7h-1.8zM247.8,1535.0h1.7v3.5h-1.7zM250.9,1539.8h3.4v1.7h-3.4zM255.6,1535.0h1.7v3.5h-1.7zM259.5,1539.8h1.8v1.7h-1.8zM262.6,1535.0h3.5v3.5h-3.5zM267.3,1539.8h1.8v1.7h-1.8zM271.3,1535.0h1.7v3.5h-1.7zM274.4,1539.8h3.4v1.7h-3.4zM279.2,1535.0h1.7v3.5h-1.7zM231.2,1542.9h3.5v3.5h-3.5zM236.0,1546.9h1.8v3.4h-1.8zM239.1,1542.9h3.5v3.5h-3.5zM243.8,1546.9h1.8v3.4h-1.8zM247.8,1542.9h1.7v3.5h-1.7zM250.9,1546.9h3.4v3.4h-3.4zM255.6,1542.9h1.7v3.5h-1.7zM259.5,1546.9h1.8v3.4h-1.8zM262.6,1542.9h3.5v3.5h-3.5zM267.3,1546.9h1.8v3.4h-1.8zM271.3,1542.9h1.7v3.5h-1.7zM274.4,1546.9h3.4v3.4h-3.4zM279.2,1542.9h1.7v3.5h-1.7zM231.2,1551.7h3.5v1.6h-3.5zM236.0,1554.8h1.8v3.4h-1.8zM239.1,1551.7h3.5v1.6h-3.5zM243.8,1554.8h1.8v3.4h-1.8zM247.8,1551.7h1.7v1.6h-1.7zM250.9,1554.8h3.4v3.4h-3.4zM255.6,1551.7h1.7v1.6h-1.7zM259.5,1554.8h1.8v3.4h-1.8zM262.6,1551.7h3.5v1.6h-3.5zM267.3,1554.8h1.8v3.4h-1.8zM271.3,1551.7h1.7v1.6h-1.7zM274.4,1554.8h3.4v3.4h-3.4zM279.2,1551.7h1.7v1.6h-1.7zM231.2,1558.7h3.5v3.5h-3.5zM236.0,1563.5h1.8v1.0h-1.8zM239.1,1558.7h3.5v3.5h-3.5zM243.8,1563.5h1.8v1.0h-1.8zM247.8,1558.7h1.7v3.5h-1.7zM250.9,1563.5h3.4v1.0h-3.4zM255.6,1558.7h1.7v3.5h-1.7zM259.5,1563.5h1.8v1.0h-1.8zM262.6,1558.7h3.5v3.5h-3.5zM267.3,1563.5h1.8v1.0h-1.8zM271.3,1558.7h1.7v3.5h-1.7zM274.4,1563.5h3.4v1.0h-3.4zM279.2,1558.7h1.7v3.5h-1.7z" fill="#fff"/>
<path d="M311.00,1564.50 L311.00,1512.80 L312.50,1511.30 L374.40,1511.30 L376.90,1513.80 L376.90,1564.50 Z" fill="#000"/>
<path d="M318.7,1518.7h3.5v2.5h-3.5zM323.4,1522.5h1.8v1.7h-1.8zM326.5,1518.7h3.5v2.5h-3.5zM330.5,1522.5h3.4v1.7h-3.4zM335.2,1518.7h1.7v2.5h-1.7zM339.1,1522.5h1.8v1.7h-1.8zM342.2,1518.7h3.5v2.5h-3.5zM347.0,1522.5h1.8v1.7h-1.8zM350.9,1518.7h1.7v2.5h-1.7zM354.0,1522.5h3.4v1.7h-3.4zM358.8,1518.7h1.7v2.5h-1.7zM362.6,1522.5h1.8v1.7h-1.8zM365.7,1518.7h3.5v2.5h-3.5zM318.7,1525.6h3.5v3.5h-3.5zM323.4,1530.4h1.8v1.7h-1.8zM326.5,1525.6h3.5v3.5h-3.5zM330.5,1530.4h3.4v1.7h-3.4zM335.2,1525.6h1.7v3.5h-1.7zM339.1,1530.4h1.8v1.7h-1.8zM342.2,1525.6h3.5v3.5h-3.5zM347.0,1530.4h1.8v1.7h-1.8zM350.9,1525.6h1.7v3.5h-1.7zM354.0,1530.4h3.4v1.7h-3.4zM358.8,1525.6h1.7v3.5h-1.7zM362.6,1530.4h1.8v1.7h-1.8zM365.7,1525.6h3.5v3.5h-3.5zM318.7,1533.5h3.5v3.5h-3.5zM323.4,1537.5h1.8v3.4h-1.8zM326.5,1533.5h3.5v3.5h-3.5zM330.5,1537.5h3.4v3.4h-3.4zM335.2,1533.5h1.7v3.5h-1.7zM339.1,1537.5h1.8v3.4h-1.8zM342.2,1533.5h3.5v3.5h-3.5zM347.0,1537.5h1.8v3.4h-1.8zM350.9,1533.5h1.7v3.5h-1.7zM354.0,1537.5h3.4v3.4h-3.4zM358.8,1533.5h1.7v3.5h-1.7zM362.6,1537.5h1.8v3.4h-1.8zM365.7,1533.5h3.5v3.5h-3.5zM318.7,1542.3h3.5v1.6h-3.5zM323.4,1546.2h1.8v1.7h-1.8zM326.5,1542.3h3.5v1.6h-3.5zM330.5,1546.2h3.4v1.7h-3.4zM335.2,1542.3h1.7v1.6h-1.7zM339.1,1546.2h1.8v1.7h-1.8zM342.2,1542.3h3.5v1.6h-3.5zM347.0,1546.2h1.8v1.7h-1.8zM350.9,1542.3h1.7v1.6h-1.7zM354.0,1546.2h3.4v1.7h-3.4zM358.8,1542.3h1.7v1.6h-1.7zM362.6,1546.2h1.8v1.7h-1.8zM365.7,1542.3h3.5v1.6h-3.5zM318.7,1549.3h3.5v3.5h-3.5zM323.4,1554.1h1.8v1.7h-1.8zM326.5,1549.3h3.5v3.5h-3.5zM330.5,1554.1h3.4v1.7h-3.4zM335.2,1549.3h1.7v3.5h-1.7zM339.1,1554.1h1.8v1.7h-1.8zM342.2,1549.3h3.5v3.5h-3.5zM347.0,1554.1h1.8v1.7h-1.8zM350.9,1549.3h1.7v3.5h-1.7zM354.0,1554.1h3.4v1.7h-3.4zM358.8,1549.3h1.7v3.5h-1.7zM362.6,1554.1h1.8v1.7h-1.8zM365.7,1549.3h3.5v3.5h-3.5zM318.7,1557.2h3.5v3.5h-3.5zM323.4,1562.0h1.8v1.7h-1.8zM326.5,1557.2h3.5v3.5h-3.5zM330.5,1562.0h3.4v1.7h-3.4zM335.2,1557.2h1.7v3.5h-1.7zM339.1,1562.0h1.8v1.7h-1.8zM342.2,1557.2h3.5v3.5h-3.5zM347.0,1562.0h1.8v1.7h-1.8zM350.9,1557.2h1.7v3.5h-1.7zM354.0,1562.0h3.4v1.7h-3.4zM358.8,1557.2h1.7v3.5h-1.7zM362.6,1562.0h1.8v1.7h-1.8zM365.7,1557.2h3.5v3.5h-3.5z" fill="#fff"/>
<path d="M458.20,1564.50 L458.20,1292.70 L459.70,1291.20 L521.20,1291.20 L523.70,1293.70 L523.70,1564.50 Z" fill="#000"/>
<path d="M476.6,1298.8h7.4v2.4h-7.4zM493.4,1298.8h7.4v2.4h-7.4zM510.3,1298.8h5.8v2.4h-5.8zM468.2,1302.5h7.4v6.8h-7.4zM476.6,1310.6h7.4v6.8h-7.4zM485.0,1302.5h7.4v6.8h-7.4zM493.4,1310.6h7.4v6.8h-7.4zM501.9,1302.5h7.4v6.8h-7.4zM510.3,1310.6h5.8v6.8h-5.8zM468.2,1318.7h7.4v6.8h-7.4zM476.6,1326.8h7.4v6.8h-7.4zM485.0,1318.7h7.4v6.8h-7.4zM493.4,1326.8h7.4v6.8h-7.4zM501.9,1318.7h7.4v6.8h-7.4zM510.3,1326.8h5.8v6.8h-5.8zM468.2,1334.9h7.4v6.8h-7.4zM476.6,1343.0h7.4v6.8h-7.4zM485.0,1334.9h7.4v6.8h-7.4zM493.4,1343.0h7.4v6.8h-7.4zM501.9,1334.9h7.4v6.8h-7.4zM510.3,1343.0h5.8v6.8h-5.8zM468.2,1351.1h7.4v6.8h-7.4zM476.6,1359.2h7.4v6.8h-7.4zM485.0,1351.1h7.4v6.8h-7.4zM493.4,1359.2h7.4v6.8h-7.4zM501.9,1351.1h7.4v6.8h-7.4zM510.3,1359.2h5.8v6.8h-5.8zM468.2,1367.3h7.4v6.8h-7.4zM476.6,1375.4h7.4v6.8h-7.4zM485.0,1367.3h7.4v6.8h-7.4zM493.4,1375.4h7.4v6.8h-7.4zM501.9,1367.3h7.4v6.8h-7.4zM510.3,1375.4h5.8v6.8h-5.8zM468.2,1383.5h7.4v6.8h-7.4zM476.6,1391.6h7.4v6.8h-7.4zM485.0,1383.5h7.4v6.8h-7.4zM493.4,1391.6h7.4v6.8h-7.4zM501.9,1383.5h7.4v6.8h-7.4zM510.3,1391.6h5.8v6.8h-5.8zM468.2,1399.7h7.4v6.8h-7.4zM476.6,1407.8h7.4v6.8h-7.4zM485.0,1399.7h7.4v6.8h-7.4zM493.4,1407.8h7.4v6.8h-7.4zM501.9,1399.7h7.4v6.8h-7.4zM510.3,1407.8h5.8v6.8h-5.8zM468.2,1415.9h7.4v6.8h-7.4zM476.6,1424.0h7.4v6.8h-7.4zM485.0,1415.9h7.4v6.8h-7.4zM493.4,1424.0h7.4v6.8h-7.4zM501.9,1415.9h7.4v6.8h-7.4zM510.3,1424.0h5.8v6.8h-5.8zM468.2,1432.1h7.4v6.8h-7.4zM476.6,1440.2h7.4v6.8h-7.4zM485.0,1432.1h7.4v6.8h-7.4zM493.4,1440.2h7.4v6.8h-7.4zM501.9,1432.1h7.4v6.8h-7.4zM510.3,1440.2h5.8v6.8h-5.8zM468.2,1448.3h7.4v6.8h-7.4zM476.6,1456.4h7.4v6.8h-7.4zM485.0,1448.3h7.4v6.8h-7.4zM493.4,1456.4h7.4v6.8h-7.4zM501.9,1448.3h7.4v6.8h-7.4zM510.3,1456.4h5.8v6.8h-5.8zM468.2,1464.5h7.4v6.8h-7.4zM476.6,1472.6h7.4v6.8h-7.4zM485.0,1464.5h7.4v6.8h-7.4zM493.4,1472.6h7.4v6.8h-7.4zM501.9,1464.5h7.4v6.8h-7.4zM510.3,1472.6h5.8v6.8h-5.8zM468.2,1480.7h7.4v6.8h-7.4zM476.6,1488.8h7.4v6.8h-7.4zM485.0,1480.7h7.4v6.8h-7.4zM493.4,1488.8h7.4v6.8h-7.4zM501.9,1480.7h7.4v6.8h-7.4zM510.3,1488.8h5.8v6.8h-5.8zM468.2,1496.9h7.4v6.8h-7.4zM476.6,1505.0h7.4v6.8h-7.4zM485.0,1496.9h7.4v6.8h-7.4zM493.4,1505.0h7.4v6.8h-7.4zM501.9,1496.9h7.4v6.8h-7.4zM510.3,1505.0h5.8v6.8h-5.8zM468.2,1513.1h7.4v6.8h-7.4zM476.6,1521.2h7.4v6.8h-7.4zM485.0,1513.1h7.4v6.8h-7.4zM493.4,1521.2h7.4v6.8h-7.4zM501.9,1513.1h7.4v6.8h-7.4zM510.3,1521.2h5.8v6.8h-5.8zM468.2,1529.3h7.4v6.8h-7.4zM476.6,1537.4h7.4v6.8h-7.4zM485.0,1529.3h7.4v6.8h-7.4zM493.4,1537.4h7.4v6.8h-7.4zM501.9,1529.3h7.4v6.8h-7.4zM510.3,1537.4h5.8v6.8h-5.8zM468.2,1545.5h7.4v6.8h-7.4zM476.6,1553.6h7.4v6.8h-7.4zM485.0,1545.5h7.4v6.8h-7.4zM493.4,1553.6h7.4v6.8h-7.4zM501.9,1545.5h7.4v6.8h-7.4zM510.3,1553.6h5.8v6.8h-5.8zM468.2,1561.7h7.4v2.8h-7.4zM485.0,1561.7h7.4v2.8h-7.4zM501.9,1561.7h7.4v2.8h-7.4z" fill="#fff"/>
<path d="M545.00,1564.50 L545.00,1481.30 L546.50,1479.80 L608.60,1479.80 L611.10,1482.30 L611.10,1564.50 Z" fill="#000"/>
<path d="M554.3,1489.0h3.8v2.0h-3.8zM567.6,1489.0h7.4v2.0h-7.4zM584.4,1489.0h7.4v2.0h-7.4zM601.3,1489.0h3.1v2.0h-3.1zM554.3,1500.4h3.8v6.8h-3.8zM559.2,1492.3h7.4v6.8h-7.4zM567.6,1500.4h7.4v6.8h-7.4zM576.0,1492.3h7.4v6.8h-7.4zM584.4,1500.4h7.4v6.8h-7.4zM592.9,1492.3h7.4v6.8h-7.4zM601.3,1500.4h3.1v6.8h-3.1zM554.3,1516.6h3.8v6.8h-3.8zM559.2,1508.5h7.4v6.8h-7.4zM567.6,1516.6h7.4v6.8h-7.4zM576.0,1508.5h7.4v6.8h-7.4zM584.4,1516.6h7.4v6.8h-7.4zM592.9,1508.5h7.4v6.8h-7.4zM601.3,1516.6h3.1v6.8h-3.1zM554.3,1532.8h3.8v6.8h-3.8zM559.2,1524.7h7.4v6.8h-7.4zM567.6,1532.8h7.4v6.8h-7.4zM576.0,1524.7h7.4v6.8h-7.4zM584.4,1532.8h7.4v6.8h-7.4zM592.9,1524.7h7.4v6.8h-7.4zM601.3,1532.8h3.1v6.8h-3.1zM554.3,1549.0h3.8v6.8h-3.8zM559.2,1540.9h7.4v6.8h-7.4zM567.6,1549.0h7.4v6.8h-7.4zM576.0,1540.9h7.4v6.8h-7.4zM584.4,1549.0h7.4v6.8h-7.4zM592.9,1540.9h7.4v6.8h-7.4zM601.3,1549.0h3.1v6.8h-3.1zM559.2,1557.1h7.4v6.8h-7.4zM576.0,1557.1h7.4v6.8h-7.4zM592.9,1557.1h7.4v6.8h-7.4z" fill="#fff"/>
<line x1="257.00" y1="1242.30" x2="257.00" y2="1270.10" stroke="#000" stroke-width="7.6" stroke-linecap="butt"/><path d="M238.30,1242.30L241.72,1238.50H271.48L274.90,1242.30L271.48,1246.10H241.72Z" fill="#000" stroke="#000" stroke-width="0.8" stroke-linejoin="round"/>
<rect x="325.60" y="1503.10" width="35.20" height="10.20" rx="2" fill="#000"/>
<line x1="490.30" y1="1254.00" x2="490.30" y2="1293.20" stroke="#000" stroke-width="7.0" stroke-linecap="butt"/><path d="M472.70,1254.00L476.12,1250.20H505.38L508.80,1254.00L505.38,1257.80H476.12Z" fill="#000" stroke="#000" stroke-width="0.8" stroke-linejoin="round"/>
<line x1="578.00" y1="1470.50" x2="578.00" y2="1481.80" stroke="#000" stroke-width="6.4" stroke-linecap="butt"/><path d="M560.30,1470.50L563.63,1466.80H592.17L595.50,1470.50L592.17,1474.20H563.63Z" fill="#000" stroke="#000" stroke-width="0.8" stroke-linejoin="round"/>
<rect x="180.80" y="1170.00" width="6.20" height="400.00" fill="#000" />
<line x1="172.80" y1="1567.00" x2="770.00" y2="1567.00" stroke="#000" stroke-width="6.0" stroke-linecap="round"/>
<line x1="173.30" y1="1173.10" x2="183.00" y2="1173.10" stroke="#000" stroke-width="6.2" stroke-linecap="round"/>
<line x1="173.30" y1="1304.30" x2="183.00" y2="1304.30" stroke="#000" stroke-width="6.2" stroke-linecap="round"/>
<line x1="173.30" y1="1435.90" x2="183.00" y2="1435.90" stroke="#000" stroke-width="6.2" stroke-linecap="round"/>
<line x1="257.30" y1="1569.00" x2="257.30" y2="1577.50" stroke="#000" stroke-width="5.8" stroke-linecap="round"/>
<line x1="343.80" y1="1569.00" x2="343.80" y2="1577.50" stroke="#000" stroke-width="5.8" stroke-linecap="round"/>
<line x1="490.10" y1="1569.00" x2="490.10" y2="1577.50" stroke="#000" stroke-width="5.8" stroke-linecap="round"/>
<line x1="577.30" y1="1569.00" x2="577.30" y2="1577.50" stroke="#000" stroke-width="5.8" stroke-linecap="round"/>
<line x1="290.50" y1="1190.20" x2="290.50" y2="1211.20" stroke="#2a2a2a" stroke-width="2.3" stroke-linecap="butt"/><line x1="280.70" y1="1195.45" x2="300.30" y2="1205.95" stroke="#2a2a2a" stroke-width="2.3" stroke-linecap="butt"/><line x1="280.70" y1="1205.95" x2="300.30" y2="1195.45" stroke="#2a2a2a" stroke-width="2.3" stroke-linecap="butt"/><line x1="312.20" y1="1190.20" x2="312.20" y2="1211.20" stroke="#2a2a2a" stroke-width="2.3" stroke-linecap="butt"/><line x1="302.40" y1="1195.45" x2="322.00" y2="1205.95" stroke="#2a2a2a" stroke-width="2.3" stroke-linecap="butt"/><line x1="302.40" y1="1205.95" x2="322.00" y2="1195.45" stroke="#2a2a2a" stroke-width="2.3" stroke-linecap="butt"/>
<line x1="525.10" y1="1195.20" x2="525.10" y2="1216.20" stroke="#2a2a2a" stroke-width="2.3" stroke-linecap="butt"/><line x1="515.30" y1="1200.45" x2="534.90" y2="1210.95" stroke="#2a2a2a" stroke-width="2.3" stroke-linecap="butt"/><line x1="515.30" y1="1210.95" x2="534.90" y2="1200.45" stroke="#2a2a2a" stroke-width="2.3" stroke-linecap="butt"/><line x1="546.80" y1="1195.20" x2="546.80" y2="1216.20" stroke="#2a2a2a" stroke-width="2.3" stroke-linecap="butt"/><line x1="537.00" y1="1200.45" x2="556.60" y2="1210.95" stroke="#2a2a2a" stroke-width="2.3" stroke-linecap="butt"/><line x1="537.00" y1="1210.95" x2="556.60" y2="1200.45" stroke="#2a2a2a" stroke-width="2.3" stroke-linecap="butt"/>
<path d="M254.40,1211.10V1233.00Q254.70,1235.00 257.10,1235.60Q260.80,1234.60 261.00,1232.40V1211.10Z" fill="#000"/><path d="M340.30,1211.10V1491.20Q340.60,1493.20 343.00,1493.80Q346.70,1492.80 346.90,1490.60V1211.10Z" fill="#000"/><path d="M254.40,1215.90V1210.10H344.70L346.90,1212.30V1215.90H340.30V1214.90H261.00V1215.90Z" fill="#000"/>
<path d="M487.35,1212.60V1241.90Q487.65,1243.90 490.00,1244.50Q493.65,1243.50 493.85,1241.30V1212.60Z" fill="#000"/><path d="M574.90,1212.60V1456.80Q575.20,1458.80 577.70,1459.40Q581.50,1458.40 581.70,1456.20V1212.60Z" fill="#000"/><path d="M487.35,1217.60V1211.60H579.50L581.70,1213.80V1217.60H574.90V1216.60H493.85V1217.60Z" fill="#000"/>
<text transform="translate(135.60,1181.00) scale(0.883,1.030)" text-anchor="middle" font-size="29.5" fill="#1c1c1c">1</text><text transform="translate(147.08,1181.00) scale(1.000,1.030)" text-anchor="middle" font-size="29.5" fill="#1c1c1c">.</text><text transform="translate(163.60,1181.00) scale(0.883,1.030)" text-anchor="middle" font-size="29.5" fill="#1c1c1c">5</text>
<text transform="translate(135.60,1312.20) scale(0.883,1.030)" text-anchor="middle" font-size="29.5" fill="#1c1c1c">1</text><text transform="translate(147.08,1312.20) scale(1.000,1.030)" text-anchor="middle" font-size="29.5" fill="#1c1c1c">.</text><text transform="translate(163.60,1312.20) scale(0.883,1.030)" text-anchor="middle" font-size="29.5" fill="#1c1c1c">0</text>
<text transform="translate(135.60,1443.80) scale(0.883,1.030)" text-anchor="middle" font-size="29.5" fill="#1c1c1c">0</text><text transform="translate(147.08,1443.80) scale(1.000,1.030)" text-anchor="middle" font-size="29.5" fill="#1c1c1c">.</text><text transform="translate(163.60,1443.80) scale(0.883,1.030)" text-anchor="middle" font-size="29.5" fill="#1c1c1c">5</text>
<text transform="translate(135.60,1574.90) scale(0.883,1.030)" text-anchor="middle" font-size="29.5" fill="#1c1c1c">0</text><text transform="translate(147.08,1574.90) scale(1.000,1.030)" text-anchor="middle" font-size="29.5" fill="#1c1c1c">.</text><text transform="translate(163.60,1574.90) scale(0.883,1.030)" text-anchor="middle" font-size="29.5" fill="#1c1c1c">0</text>
<g transform="translate(248.80,1616.50) rotate(-45)"><text transform="translate(-40.00,0.00) scale(0.676,1.000)" text-anchor="middle" font-size="30.5" fill="#1c1c1c">O</text><text transform="translate(-24.00,0.00) scale(0.676,1.000)" text-anchor="middle" font-size="30.5" fill="#1c1c1c">V</text><text transform="translate(-8.00,0.00) scale(0.676,1.000)" text-anchor="middle" font-size="30.5" fill="#1c1c1c">X</text></g>
<g transform="translate(481.60,1616.50) rotate(-45)"><text transform="translate(-40.00,0.00) scale(0.676,1.000)" text-anchor="middle" font-size="30.5" fill="#1c1c1c">O</text><text transform="translate(-24.00,0.00) scale(0.676,1.000)" text-anchor="middle" font-size="30.5" fill="#1c1c1c">V</text><text transform="translate(-8.00,0.00) scale(0.676,1.000)" text-anchor="middle" font-size="30.5" fill="#1c1c1c">X</text></g>
<g transform="translate(336.80,1615.50) rotate(-45)"><text transform="translate(-38.50,0.00) scale(0.704,1.000)" text-anchor="middle" font-size="30.5" fill="#1c1c1c">R</text><text transform="translate(-23.10,0.00) scale(0.650,1.000)" text-anchor="middle" font-size="30.5" fill="#1c1c1c">D</text><text transform="translate(-7.70,0.00) scale(0.769,1.000)" text-anchor="middle" font-size="30.5" fill="#1c1c1c">E</text></g>
<g transform="translate(570.30,1615.50) rotate(-45)"><text transform="translate(-38.50,0.00) scale(0.704,1.000)" text-anchor="middle" font-size="30.5" fill="#1c1c1c">R</text><text transform="translate(-23.10,0.00) scale(0.650,1.000)" text-anchor="middle" font-size="30.5" fill="#1c1c1c">D</text><text transform="translate(-7.70,0.00) scale(0.769,1.000)" text-anchor="middle" font-size="30.5" fill="#1c1c1c">E</text></g>
<path d="M721.0,1223.1H765.4L768.0,1225.7V1243.9L763.4,1246.5H722.0L718.4,1243.9V1225.7Z" fill="#000"/><path d="M726.7,1231.3h1.6v1.7h-1.6zM734.9,1231.3h1.6v1.7h-1.6zM741.5,1231.3h3.4v1.7h-3.4zM749.7,1231.3h3.4v1.7h-3.4zM758.1,1231.3h1.6v1.7h-1.6zM726.7,1238.1h1.6v1.5h-1.6zM734.9,1238.1h1.6v1.5h-1.6zM741.5,1238.1h3.4v1.5h-3.4zM749.7,1238.1h3.4v1.5h-3.4zM758.1,1238.1h1.6v1.5h-1.6zM729.9,1235.1h3.4v2.7h-3.4zM738.4,1235.1h1.4v2.7h-1.4zM746.6,1235.1h1.4v2.7h-1.4zM754.8,1235.1h1.4v2.7h-1.4z" fill="#fff"/>
<text transform="translate(791.45,1242.70) scale(1.220,1.000)" text-anchor="middle" font-size="24.0" fill="#1c1c1c">r</text><text transform="translate(804.75,1242.70) scale(1.000,1.000)" text-anchor="middle" font-size="24.0" fill="#1c1c1c">n</text><text transform="translate(818.05,1242.70) scale(1.000,1.000)" text-anchor="middle" font-size="24.0" fill="#1c1c1c">o</text><text transform="translate(831.35,1242.70) scale(0.953,1.000)" text-anchor="middle" font-size="24.0" fill="#1c1c1c">–</text><text transform="translate(844.65,1242.70) scale(0.663,1.000)" text-anchor="middle" font-size="24.0" fill="#1c1c1c">m</text><text transform="translate(857.95,1242.70) scale(1.220,1.000)" text-anchor="middle" font-size="24.0" fill="#1c1c1c">i</text><text transform="translate(871.25,1242.70) scale(0.773,1.000)" text-anchor="middle" font-size="24.0" fill="#1c1c1c">R</text><text transform="translate(884.55,1242.70) scale(0.953,1.000)" text-anchor="middle" font-size="24.0" fill="#1c1c1c">–</text><text transform="translate(897.85,1242.70) scale(1.000,1.000)" text-anchor="middle" font-size="24.0" fill="#1c1c1c">3</text><text transform="translate(911.15,1242.70) scale(1.000,1.000)" text-anchor="middle" font-size="24.0" fill="#1c1c1c">2</text><text transform="translate(924.45,1242.70) scale(1.000,1.000)" text-anchor="middle" font-size="24.0" fill="#1c1c1c">8</text><text transform="translate(937.75,1242.70) scale(1.000,1.000)" text-anchor="middle" font-size="24.0" fill="#1c1c1c">a</text><text transform="translate(951.05,1242.70) scale(0.953,1.000)" text-anchor="middle" font-size="24.0" fill="#1c1c1c">–</text><text transform="translate(964.35,1242.70) scale(1.000,1.000)" text-anchor="middle" font-size="24.0" fill="#1c1c1c">3</text><text transform="translate(977.65,1242.70) scale(1.000,1.000)" text-anchor="middle" font-size="24.0" fill="#1c1c1c">p</text>
<path d="M721.0,1272.2H765.4L768.0,1274.8V1293.0L763.4,1295.6H722.0L718.4,1293.0V1274.8Z" fill="#000"/><path d="M726.3,1278.6h3.4v3.4h-3.4zM737.5,1278.6h6.5v3.4h-6.5zM753.6,1278.6h6.5v3.4h-6.5zM731.3,1283.9h4.8v3.0h-4.8zM745.4,1283.9h6.5v3.0h-6.5z" fill="#fff"/>
<text transform="translate(791.45,1291.80) scale(1.220,1.000)" text-anchor="middle" font-size="24.0" fill="#1c1c1c">r</text><text transform="translate(804.75,1291.80) scale(1.000,1.000)" text-anchor="middle" font-size="24.0" fill="#1c1c1c">n</text><text transform="translate(818.05,1291.80) scale(1.000,1.000)" text-anchor="middle" font-size="24.0" fill="#1c1c1c">o</text><text transform="translate(831.35,1291.80) scale(0.953,1.000)" text-anchor="middle" font-size="24.0" fill="#1c1c1c">–</text><text transform="translate(844.65,1291.80) scale(0.663,1.000)" text-anchor="middle" font-size="24.0" fill="#1c1c1c">m</text><text transform="translate(857.95,1291.80) scale(1.220,1.000)" text-anchor="middle" font-size="24.0" fill="#1c1c1c">i</text><text transform="translate(871.25,1291.80) scale(0.773,1.000)" text-anchor="middle" font-size="24.0" fill="#1c1c1c">R</text><text transform="translate(884.55,1291.80) scale(0.953,1.000)" text-anchor="middle" font-size="24.0" fill="#1c1c1c">–</text><text transform="translate(897.85,1291.80) scale(1.000,1.000)" text-anchor="middle" font-size="24.0" fill="#1c1c1c">1</text><text transform="translate(911.15,1291.80) scale(1.000,1.000)" text-anchor="middle" font-size="24.0" fill="#1c1c1c">9</text><text transform="translate(924.45,1291.80) scale(1.000,1.000)" text-anchor="middle" font-size="24.0" fill="#1c1c1c">1</text><text transform="translate(937.75,1291.80) scale(1.000,1.000)" text-anchor="middle" font-size="24.0" fill="#1c1c1c">a</text><text transform="translate(951.05,1291.80) scale(0.953,1.000)" text-anchor="middle" font-size="24.0" fill="#1c1c1c">–</text><text transform="translate(964.35,1291.80) scale(1.000,1.000)" text-anchor="middle" font-size="24.0" fill="#1c1c1c">5</text><text transform="translate(977.65,1291.80) scale(1.000,1.000)" text-anchor="middle" font-size="24.0" fill="#1c1c1c">p</text>
<text transform="translate(94.40,1493.30) rotate(-90)" font-size="42" font-weight="bold" fill="#000">2</text><text transform="translate(69.00,1471.50) rotate(-90)" font-size="27.5" font-weight="bold" fill="#000">−ΔΔCT</text>
<text x="511.5" y="1715.5" font-size="43" fill="#000">c</text></svg>
</body></html>
